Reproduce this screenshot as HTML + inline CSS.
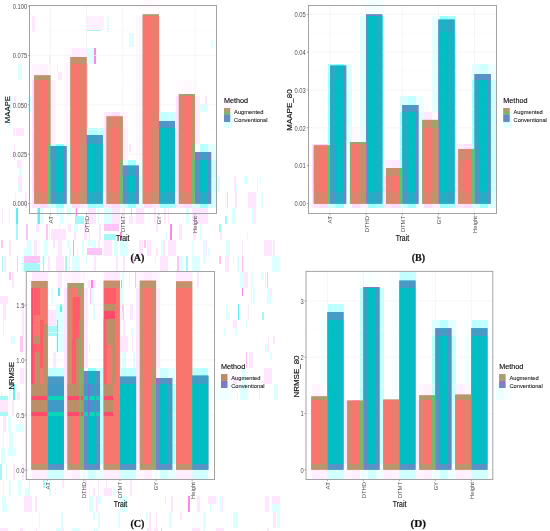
<!DOCTYPE html>
<html><head><meta charset="utf-8"><title>Figure</title>
<style>
html,body{margin:0;padding:0;background:#fff;}
body{width:550px;height:531px;overflow:hidden;}
svg{display:block;font-family:"Liberation Sans",sans-serif;}
</style></head><body>
<svg width="550" height="531" viewBox="0 0 550 531">
<defs><filter id="gs" filterUnits="userSpaceOnUse" x="0" y="0" width="550" height="531" color-interpolation-filters="sRGB"><feColorMatrix type="saturate" values="0"/></filter></defs>
<rect width="550" height="531" fill="#fff"/>
<g shape-rendering="crispEdges">
<rect x="32.3" y="16" width="3" height="16" fill="#FFE6FF"/>
<rect x="106.5" y="16" width="2" height="16" fill="#DCFFFF"/>
<rect x="210.8" y="40" width="2" height="8" fill="#DCFFFF"/>
<rect x="49" y="56" width="2" height="8" fill="#FFE6FF"/>
<rect x="17.5" y="64" width="4" height="16" fill="#DCFFFF"/>
<rect x="57.6" y="72" width="4" height="8" fill="#FFE6FF"/>
<rect x="57.3" y="64" width="1" height="8" fill="#DCFFFF"/>
<rect x="64.6" y="64" width="4" height="16" fill="#FFE6FF"/>
<rect x="73.5" y="64" width="4" height="16" fill="#DCFFFF"/>
<rect x="13.7" y="96" width="2" height="8" fill="#FFE6FF"/>
<rect x="10.2" y="96" width="1.5" height="16" fill="#DCFFFF"/>
<rect x="28.8" y="96" width="2" height="16" fill="#FFE6FF"/>
<rect x="27.9" y="96" width="3" height="16" fill="#DCFFFF"/>
<rect x="200" y="104" width="8" height="8" fill="#DCFFFF"/>
<rect x="205.4" y="96" width="1.5" height="8" fill="#FFE6FF"/>
<rect x="8.4" y="112" width="1.5" height="16" fill="#DCFFFF"/>
<rect x="146.1" y="112" width="4" height="16" fill="#DCFFFF"/>
<rect x="144.2" y="112" width="4" height="8" fill="#FFE6FF"/>
<rect x="161.6" y="112" width="3" height="16" fill="#FFE6FF"/>
<rect x="13.5" y="128" width="1.5" height="8" fill="#FFE6FF"/>
<rect x="12.7" y="128" width="1" height="8" fill="#DCFFFF"/>
<rect x="16" y="128" width="8" height="8" fill="#FFE6FF"/>
<rect x="14.3" y="144" width="1" height="16" fill="#FFE6FF"/>
<rect x="128.5" y="144" width="2" height="8" fill="#FFE6FF"/>
<rect x="140.6" y="152" width="3" height="8" fill="#FFE6FF"/>
<rect x="142.1" y="144" width="1.5" height="8" fill="#DCFFFF"/>
<rect x="200.1" y="144" width="1" height="16" fill="#DCFFFF"/>
<rect x="19.3" y="160" width="3" height="16" fill="#DCFFFF"/>
<rect x="17.2" y="160" width="4" height="8" fill="#FFE6FF"/>
<rect x="72" y="168" width="8" height="8" fill="#DCFFFF"/>
<rect x="76.4" y="160" width="3" height="8" fill="#DCFFFF"/>
<rect x="179.3" y="168" width="1" height="8" fill="#DCFFFF"/>
<rect x="185" y="160" width="1" height="16" fill="#DCFFFF"/>
<rect x="17.6" y="176" width="4" height="16" fill="#FFE6FF"/>
<rect x="17.8" y="184" width="1.5" height="8" fill="#DCFFFF"/>
<rect x="99.2" y="176" width="4" height="16" fill="#DCFFFF"/>
<rect x="96" y="176" width="8" height="8" fill="#FFE6FF"/>
<rect x="160" y="176" width="8" height="16" fill="#FFE6FF"/>
<rect x="169.3" y="184" width="3" height="8" fill="#FFE6FF"/>
<rect x="169.5" y="176" width="1.5" height="16" fill="#DCFFFF"/>
<rect x="208" y="176" width="8" height="16" fill="#DCFFFF"/>
<rect x="208" y="176" width="8" height="16" fill="#FFE6FF"/>
<rect x="217.3" y="176" width="3" height="16" fill="#DCFFFF"/>
<rect x="234.8" y="184" width="2" height="8" fill="#DCFFFF"/>
<rect x="234" y="176" width="1.5" height="16" fill="#FFE6FF"/>
<rect x="243.9" y="176" width="4" height="8" fill="#DCFFFF"/>
<rect x="257" y="176" width="1" height="16" fill="#DCFFFF"/>
<rect x="259.9" y="176" width="1.5" height="8" fill="#DCFFFF"/>
<rect x="14.6" y="192" width="1" height="16" fill="#DCFFFF"/>
<rect x="24.7" y="192" width="2" height="16" fill="#FFE6FF"/>
<rect x="65.5" y="192" width="2" height="16" fill="#FFE6FF"/>
<rect x="64.3" y="192" width="4" height="16" fill="#DCFFFF"/>
<rect x="83.8" y="192" width="2" height="16" fill="#FFE6FF"/>
<rect x="82.6" y="192" width="3" height="16" fill="#FFE6FF"/>
<rect x="154.3" y="192" width="3" height="16" fill="#DCFFFF"/>
<rect x="154.9" y="192" width="2" height="8" fill="#FFE6FF"/>
<rect x="224.5" y="192" width="1.5" height="16" fill="#DCFFFF"/>
<rect x="226.8" y="192" width="1.5" height="16" fill="#A8F7F7"/>
<rect x="235.3" y="192" width="2" height="16" fill="#FFE6FF"/>
<rect x="248" y="192" width="8" height="16" fill="#FFE6FF"/>
<rect x="260.5" y="192" width="2" height="16" fill="#DCFFFF"/>
<rect x="1.9" y="208" width="1" height="16" fill="#FFE6FF"/>
<rect x="8.9" y="208" width="1" height="16" fill="#DCFFFF"/>
<rect x="37.1" y="208" width="2" height="16" fill="#A8F7F7"/>
<rect x="41" y="208" width="1.5" height="16" fill="#DCFFFF"/>
<rect x="56.4" y="208" width="3" height="8" fill="#DCFFFF"/>
<rect x="59.7" y="208" width="4" height="16" fill="#DCFFFF"/>
<rect x="66.5" y="208" width="4" height="8" fill="#DCFFFF"/>
<rect x="74.5" y="208" width="1.5" height="16" fill="#FFE6FF"/>
<rect x="75.8" y="208" width="1" height="8" fill="#FF86E2"/>
<rect x="91.6" y="208" width="1.5" height="16" fill="#FFE6FF"/>
<rect x="88" y="208" width="8" height="16" fill="#FFE6FF"/>
<rect x="97.8" y="208" width="1" height="16" fill="#DCFFFF"/>
<rect x="104" y="208" width="8" height="16" fill="#DCFFFF"/>
<rect x="112" y="208" width="8" height="16" fill="#FFE6FF"/>
<rect x="123" y="208" width="1.5" height="16" fill="#FFE6FF"/>
<rect x="130.7" y="208" width="1.5" height="16" fill="#FFC4F6"/>
<rect x="128.6" y="216" width="4" height="8" fill="#FFE6FF"/>
<rect x="136" y="208" width="8" height="16" fill="#FFE6FF"/>
<rect x="154.1" y="208" width="1.5" height="16" fill="#FFE6FF"/>
<rect x="164" y="208" width="2" height="16" fill="#FFE6FF"/>
<rect x="168" y="208" width="1" height="16" fill="#FFE6FF"/>
<rect x="185.8" y="208" width="3" height="16" fill="#DCFFFF"/>
<rect x="192" y="208" width="8" height="16" fill="#FFE6FF"/>
<rect x="200" y="208" width="8" height="16" fill="#FFE6FF"/>
<rect x="225.3" y="216" width="1.5" height="8" fill="#A8F7F7"/>
<rect x="232.2" y="208" width="4" height="16" fill="#DCFFFF"/>
<rect x="251.7" y="208" width="4" height="16" fill="#DCFFFF"/>
<rect x="253.8" y="208" width="1" height="16" fill="#FFE6FF"/>
<rect x="16.1" y="224" width="1.5" height="16" fill="#A8F7F7"/>
<rect x="26.4" y="224" width="1.5" height="16" fill="#FFC4F6"/>
<rect x="35.8" y="224" width="3" height="8" fill="#FFE6FF"/>
<rect x="46.4" y="224" width="1.5" height="16" fill="#FFC4F6"/>
<rect x="48.6" y="224" width="1.5" height="16" fill="#DCFFFF"/>
<rect x="58.7" y="224" width="1.5" height="16" fill="#DCFFFF"/>
<rect x="69.5" y="224" width="1" height="8" fill="#FFE6FF"/>
<rect x="68.4" y="224" width="2" height="8" fill="#FFE6FF"/>
<rect x="74.1" y="224" width="1.5" height="16" fill="#FFE6FF"/>
<rect x="74.1" y="224" width="4" height="8" fill="#DCFFFF"/>
<rect x="84.4" y="224" width="3" height="16" fill="#FFE6FF"/>
<rect x="88.8" y="224" width="1.5" height="16" fill="#FFE6FF"/>
<rect x="99.1" y="224" width="2" height="16" fill="#FFE6FF"/>
<rect x="116.5" y="224" width="1" height="16" fill="#DCFFFF"/>
<rect x="120.3" y="232" width="1.5" height="8" fill="#FF86E2"/>
<rect x="156" y="224" width="1.5" height="8" fill="#FFE6FF"/>
<rect x="165.6" y="232" width="1" height="8" fill="#DCFFFF"/>
<rect x="169.8" y="224" width="2" height="16" fill="#FF86E2"/>
<rect x="178.5" y="224" width="2" height="16" fill="#FFE6FF"/>
<rect x="179.9" y="224" width="2" height="16" fill="#FFE6FF"/>
<rect x="192.6" y="224" width="3" height="16" fill="#FFE6FF"/>
<rect x="200.1" y="224" width="1.5" height="16" fill="#DCFFFF"/>
<rect x="220.4" y="224" width="2" height="16" fill="#FFE6FF"/>
<rect x="219.4" y="224" width="1.5" height="8" fill="#A8F7F7"/>
<rect x="246.8" y="232" width="1" height="8" fill="#DCFFFF"/>
<rect x="1.2" y="240" width="1.5" height="8" fill="#FFC4F6"/>
<rect x="8.7" y="240" width="2" height="16" fill="#FFE6FF"/>
<rect x="24" y="248" width="8" height="8" fill="#DCFFFF"/>
<rect x="27.4" y="240" width="4" height="16" fill="#DCFFFF"/>
<rect x="33.9" y="240" width="3" height="16" fill="#FFE6FF"/>
<rect x="43.9" y="240" width="4" height="16" fill="#DCFFFF"/>
<rect x="53.3" y="240" width="1.5" height="8" fill="#FFE6FF"/>
<rect x="58" y="240" width="4" height="16" fill="#FFE6FF"/>
<rect x="68.7" y="248" width="2" height="8" fill="#DCFFFF"/>
<rect x="67.3" y="240" width="3" height="8" fill="#DCFFFF"/>
<rect x="73.4" y="240" width="1" height="16" fill="#62EEF0"/>
<rect x="76.5" y="248" width="1.5" height="8" fill="#DCFFFF"/>
<rect x="82.1" y="240" width="1.5" height="16" fill="#DCFFFF"/>
<rect x="91.9" y="240" width="4" height="16" fill="#DCFFFF"/>
<rect x="98.2" y="240" width="2" height="16" fill="#FFE6FF"/>
<rect x="104" y="240" width="8" height="16" fill="#FFE6FF"/>
<rect x="116.5" y="240" width="1" height="16" fill="#FFE6FF"/>
<rect x="114.1" y="240" width="4" height="16" fill="#DCFFFF"/>
<rect x="120" y="240" width="8" height="16" fill="#DCFFFF"/>
<rect x="125" y="240" width="3" height="16" fill="#DCFFFF"/>
<rect x="139" y="240" width="4" height="16" fill="#FFE6FF"/>
<rect x="144" y="240" width="2" height="8" fill="#FFC4F6"/>
<rect x="146.5" y="240" width="4" height="16" fill="#FFE6FF"/>
<rect x="156" y="248" width="1.5" height="8" fill="#FFE6FF"/>
<rect x="163.2" y="240" width="2" height="16" fill="#FFE6FF"/>
<rect x="161.3" y="240" width="1.5" height="16" fill="#DCFFFF"/>
<rect x="168" y="240" width="8" height="16" fill="#FFE6FF"/>
<rect x="192.4" y="240" width="1" height="16" fill="#DCFFFF"/>
<rect x="203" y="240" width="3" height="16" fill="#DCFFFF"/>
<rect x="205.9" y="240" width="1.5" height="16" fill="#FFE6FF"/>
<rect x="208.4" y="248" width="1.5" height="8" fill="#DCFFFF"/>
<rect x="226.4" y="240" width="4" height="16" fill="#DCFFFF"/>
<rect x="242.1" y="240" width="1" height="16" fill="#FFE6FF"/>
<rect x="264" y="240" width="8" height="16" fill="#FFE6FF"/>
<rect x="273.4" y="240" width="2" height="16" fill="#FFE6FF"/>
<rect x="4.3" y="256" width="2" height="16" fill="#FFE6FF"/>
<rect x="1.9" y="256" width="1.5" height="16" fill="#A8F7F7"/>
<rect x="17.2" y="256" width="1" height="16" fill="#A8F7F7"/>
<rect x="22.1" y="256" width="1.5" height="16" fill="#DCFFFF"/>
<rect x="36.5" y="256" width="3" height="16" fill="#DCFFFF"/>
<rect x="42.4" y="256" width="3" height="8" fill="#DCFFFF"/>
<rect x="42.7" y="256" width="1" height="16" fill="#FFC4F6"/>
<rect x="48.2" y="256" width="1.5" height="16" fill="#FFE6FF"/>
<rect x="56" y="256" width="8" height="16" fill="#FFE6FF"/>
<rect x="69.2" y="256" width="1" height="16" fill="#FFE6FF"/>
<rect x="65.2" y="256" width="2" height="16" fill="#A8F7F7"/>
<rect x="72.5" y="256" width="3" height="8" fill="#FFE6FF"/>
<rect x="72" y="256" width="8" height="16" fill="#DCFFFF"/>
<rect x="85.5" y="256" width="1" height="8" fill="#DCFFFF"/>
<rect x="93.6" y="256" width="2" height="16" fill="#FFE6FF"/>
<rect x="115.7" y="256" width="2" height="16" fill="#FFE6FF"/>
<rect x="122.8" y="256" width="2" height="16" fill="#FFE6FF"/>
<rect x="131.3" y="256" width="4" height="8" fill="#FFE6FF"/>
<rect x="155.4" y="256" width="1" height="8" fill="#DCFFFF"/>
<rect x="163.5" y="256" width="2" height="16" fill="#FFE6FF"/>
<rect x="160" y="256" width="8" height="16" fill="#FFE6FF"/>
<rect x="179.1" y="256" width="4" height="16" fill="#DCFFFF"/>
<rect x="176.5" y="256" width="2" height="16" fill="#FFC4F6"/>
<rect x="185.6" y="256" width="2" height="16" fill="#A8F7F7"/>
<rect x="198.1" y="256" width="1.5" height="16" fill="#FFE6FF"/>
<rect x="192" y="256" width="8" height="16" fill="#DCFFFF"/>
<rect x="203.3" y="256" width="3" height="8" fill="#DCFFFF"/>
<rect x="218.8" y="256" width="2" height="8" fill="#FFC4F6"/>
<rect x="224.6" y="256" width="4" height="8" fill="#FFE6FF"/>
<rect x="225.4" y="256" width="4" height="16" fill="#FFE6FF"/>
<rect x="233.2" y="256" width="1" height="8" fill="#DCFFFF"/>
<rect x="237.2" y="256" width="1.5" height="16" fill="#DCFFFF"/>
<rect x="242" y="256" width="1" height="16" fill="#FFC4F6"/>
<rect x="242.8" y="256" width="1" height="16" fill="#DCFFFF"/>
<rect x="272" y="256" width="8" height="16" fill="#DCFFFF"/>
<rect x="275.5" y="256" width="3" height="16" fill="#DCFFFF"/>
<rect x="9.1" y="272" width="2" height="8" fill="#FFC4F6"/>
<rect x="11.8" y="272" width="2" height="16" fill="#FFE6FF"/>
<rect x="34.4" y="272" width="3" height="16" fill="#FFE6FF"/>
<rect x="45.8" y="280" width="1.5" height="8" fill="#FFE6FF"/>
<rect x="40.3" y="280" width="1" height="8" fill="#DCFFFF"/>
<rect x="57.8" y="272" width="4" height="16" fill="#FFE6FF"/>
<rect x="65.4" y="272" width="4" height="16" fill="#DCFFFF"/>
<rect x="85.1" y="272" width="1" height="16" fill="#DCFFFF"/>
<rect x="81.6" y="272" width="2" height="8" fill="#FFE6FF"/>
<rect x="88" y="280" width="8" height="8" fill="#FFE6FF"/>
<rect x="91" y="280" width="1.5" height="8" fill="#FF86E2"/>
<rect x="99" y="280" width="1.5" height="8" fill="#DCFFFF"/>
<rect x="100" y="272" width="2" height="16" fill="#DCFFFF"/>
<rect x="106.6" y="272" width="4" height="16" fill="#DCFFFF"/>
<rect x="121.1" y="280" width="2" height="8" fill="#62EEF0"/>
<rect x="122.1" y="272" width="2" height="16" fill="#DCFFFF"/>
<rect x="134.5" y="272" width="1" height="16" fill="#FFC4F6"/>
<rect x="128.6" y="272" width="1" height="16" fill="#DCFFFF"/>
<rect x="176" y="272" width="8" height="16" fill="#DCFFFF"/>
<rect x="196.7" y="272" width="2" height="16" fill="#FFE6FF"/>
<rect x="240" y="272" width="8" height="16" fill="#FFE6FF"/>
<rect x="240.3" y="272" width="4" height="16" fill="#DCFFFF"/>
<rect x="250.5" y="272" width="2" height="16" fill="#DCFFFF"/>
<rect x="260.5" y="272" width="3" height="8" fill="#DCFFFF"/>
<rect x="265.1" y="272" width="1" height="16" fill="#FFE6FF"/>
<rect x="266.8" y="272" width="1.5" height="16" fill="#FFC4F6"/>
<rect x="0" y="296" width="8" height="8" fill="#FFE6FF"/>
<rect x="27.8" y="288" width="3" height="8" fill="#FFE6FF"/>
<rect x="32" y="288" width="8" height="16" fill="#DCFFFF"/>
<rect x="50.5" y="288" width="2" height="16" fill="#DCFFFF"/>
<rect x="58.1" y="288" width="2" height="8" fill="#62EEF0"/>
<rect x="68.3" y="288" width="2" height="16" fill="#FFE6FF"/>
<rect x="75.4" y="288" width="2" height="16" fill="#FFC4F6"/>
<rect x="85.3" y="288" width="1.5" height="16" fill="#DCFFFF"/>
<rect x="90.4" y="288" width="4" height="16" fill="#DCFFFF"/>
<rect x="89.5" y="288" width="1" height="16" fill="#FFC4F6"/>
<rect x="100.6" y="288" width="1" height="16" fill="#FFC4F6"/>
<rect x="106.6" y="288" width="1" height="16" fill="#DCFFFF"/>
<rect x="107" y="288" width="1" height="16" fill="#FFC4F6"/>
<rect x="115.7" y="288" width="4" height="16" fill="#FFE6FF"/>
<rect x="117.8" y="288" width="1" height="16" fill="#DCFFFF"/>
<rect x="120.3" y="288" width="3" height="16" fill="#DCFFFF"/>
<rect x="139.8" y="288" width="3" height="8" fill="#DCFFFF"/>
<rect x="241.5" y="288" width="1" height="8" fill="#FF86E2"/>
<rect x="250.9" y="288" width="1.5" height="16" fill="#DCFFFF"/>
<rect x="252.6" y="288" width="2" height="16" fill="#DCFFFF"/>
<rect x="266.8" y="288" width="4" height="16" fill="#DCFFFF"/>
<rect x="269.5" y="288" width="2" height="8" fill="#FFE6FF"/>
<rect x="2.7" y="304" width="1" height="16" fill="#FFE6FF"/>
<rect x="3" y="304" width="3" height="16" fill="#FFE6FF"/>
<rect x="22.3" y="304" width="1.5" height="16" fill="#FFE6FF"/>
<rect x="25.9" y="304" width="3" height="16" fill="#DCFFFF"/>
<rect x="40.4" y="304" width="2" height="16" fill="#62EEF0"/>
<rect x="56" y="304" width="8" height="16" fill="#DCFFFF"/>
<rect x="59.5" y="304" width="2" height="8" fill="#62EEF0"/>
<rect x="65.4" y="304" width="3" height="8" fill="#FFE6FF"/>
<rect x="77" y="304" width="2" height="16" fill="#DCFFFF"/>
<rect x="83.5" y="304" width="1.5" height="16" fill="#A8F7F7"/>
<rect x="93.1" y="304" width="1.5" height="16" fill="#DCFFFF"/>
<rect x="96" y="304" width="8" height="16" fill="#DCFFFF"/>
<rect x="106.3" y="304" width="3" height="16" fill="#FFE6FF"/>
<rect x="121.9" y="304" width="2" height="16" fill="#FFC4F6"/>
<rect x="121.2" y="312" width="1.5" height="8" fill="#FFE6FF"/>
<rect x="130.4" y="304" width="2" height="8" fill="#DCFFFF"/>
<rect x="129.9" y="304" width="3" height="16" fill="#FFE6FF"/>
<rect x="226.4" y="304" width="1" height="8" fill="#DCFFFF"/>
<rect x="225.9" y="312" width="4" height="8" fill="#DCFFFF"/>
<rect x="237.5" y="304" width="1.5" height="16" fill="#62EEF0"/>
<rect x="248.2" y="304" width="1" height="16" fill="#FFE6FF"/>
<rect x="261.8" y="312" width="2" height="8" fill="#A8F7F7"/>
<rect x="2.9" y="320" width="1.5" height="16" fill="#FFE6FF"/>
<rect x="21.6" y="320" width="2" height="16" fill="#FFE6FF"/>
<rect x="28.7" y="320" width="2" height="16" fill="#DCFFFF"/>
<rect x="44.5" y="320" width="2" height="16" fill="#A8F7F7"/>
<rect x="51.8" y="320" width="3" height="16" fill="#FFE6FF"/>
<rect x="50.3" y="320" width="2" height="16" fill="#FFE6FF"/>
<rect x="56" y="320" width="8" height="16" fill="#DCFFFF"/>
<rect x="78.5" y="320" width="1" height="16" fill="#FFC4F6"/>
<rect x="86.5" y="320" width="1" height="8" fill="#FFE6FF"/>
<rect x="96.6" y="320" width="3" height="16" fill="#FFE6FF"/>
<rect x="115.6" y="320" width="4" height="8" fill="#DCFFFF"/>
<rect x="123.4" y="320" width="2" height="16" fill="#FFE6FF"/>
<rect x="130.7" y="328" width="2" height="8" fill="#DCFFFF"/>
<rect x="139.6" y="328" width="1.5" height="8" fill="#DCFFFF"/>
<rect x="138.6" y="320" width="2" height="8" fill="#FFE6FF"/>
<rect x="224.4" y="328" width="1.5" height="8" fill="#DCFFFF"/>
<rect x="235.1" y="320" width="2" height="16" fill="#DCFFFF"/>
<rect x="233.1" y="320" width="4" height="8" fill="#FFE6FF"/>
<rect x="245.5" y="320" width="1.5" height="8" fill="#DCFFFF"/>
<rect x="10.7" y="336" width="4" height="8" fill="#DCFFFF"/>
<rect x="19.6" y="336" width="1" height="16" fill="#FFC4F6"/>
<rect x="21.1" y="336" width="2" height="16" fill="#FFC4F6"/>
<rect x="29.7" y="344" width="1.5" height="8" fill="#FFE6FF"/>
<rect x="32" y="344" width="8" height="8" fill="#DCFFFF"/>
<rect x="40.8" y="336" width="1" height="16" fill="#DCFFFF"/>
<rect x="44.7" y="336" width="2" height="16" fill="#FFC4F6"/>
<rect x="56" y="336" width="8" height="16" fill="#DCFFFF"/>
<rect x="70.3" y="336" width="1.5" height="8" fill="#FFE6FF"/>
<rect x="72.7" y="336" width="1" height="8" fill="#DCFFFF"/>
<rect x="82.6" y="344" width="3" height="8" fill="#DCFFFF"/>
<rect x="80" y="336" width="8" height="16" fill="#FFE6FF"/>
<rect x="88.9" y="344" width="1" height="8" fill="#FFE6FF"/>
<rect x="107.7" y="336" width="3" height="16" fill="#FFE6FF"/>
<rect x="104" y="336" width="8" height="16" fill="#DCFFFF"/>
<rect x="117.4" y="336" width="1" height="8" fill="#FFE6FF"/>
<rect x="124.9" y="344" width="2" height="8" fill="#FFC4F6"/>
<rect x="120" y="336" width="8" height="16" fill="#FFE6FF"/>
<rect x="131.7" y="336" width="1" height="16" fill="#FFE6FF"/>
<rect x="136.9" y="336" width="1.5" height="16" fill="#62EEF0"/>
<rect x="265.1" y="344" width="4" height="8" fill="#DCFFFF"/>
<rect x="268.3" y="336" width="1" height="16" fill="#FFE6FF"/>
<rect x="272.7" y="336" width="2" height="8" fill="#FFE6FF"/>
<rect x="27.7" y="352" width="4" height="16" fill="#DCFFFF"/>
<rect x="29.5" y="360" width="2" height="8" fill="#DCFFFF"/>
<rect x="42.8" y="352" width="4" height="16" fill="#FFE6FF"/>
<rect x="52.5" y="352" width="3" height="16" fill="#FFE6FF"/>
<rect x="65.2" y="352" width="1.5" height="16" fill="#DCFFFF"/>
<rect x="77.6" y="352" width="1.5" height="16" fill="#FFE6FF"/>
<rect x="81.9" y="352" width="1.5" height="8" fill="#DCFFFF"/>
<rect x="97.6" y="352" width="4" height="16" fill="#DCFFFF"/>
<rect x="104" y="352" width="8" height="16" fill="#FFE6FF"/>
<rect x="116" y="352" width="1.5" height="16" fill="#FFC4F6"/>
<rect x="113.7" y="352" width="1.5" height="16" fill="#FFC4F6"/>
<rect x="122.7" y="352" width="1.5" height="16" fill="#FFE6FF"/>
<rect x="122.3" y="352" width="4" height="16" fill="#DCFFFF"/>
<rect x="133.2" y="352" width="2" height="16" fill="#DCFFFF"/>
<rect x="140.3" y="352" width="2" height="16" fill="#FFE6FF"/>
<rect x="245.5" y="352" width="1" height="16" fill="#FFC4F6"/>
<rect x="249.2" y="352" width="4" height="16" fill="#FFE6FF"/>
<rect x="269.8" y="352" width="2" height="8" fill="#DCFFFF"/>
<rect x="19.6" y="368" width="4" height="16" fill="#FFE6FF"/>
<rect x="26.6" y="368" width="3" height="16" fill="#DCFFFF"/>
<rect x="26.3" y="368" width="3" height="16" fill="#FFE6FF"/>
<rect x="32" y="368" width="8" height="16" fill="#FFE6FF"/>
<rect x="43.7" y="368" width="4" height="8" fill="#FFE6FF"/>
<rect x="42.2" y="368" width="3" height="16" fill="#DCFFFF"/>
<rect x="48" y="368" width="8" height="16" fill="#FFE6FF"/>
<rect x="53.8" y="376" width="1" height="8" fill="#DCFFFF"/>
<rect x="59.2" y="368" width="3" height="16" fill="#DCFFFF"/>
<rect x="59.3" y="376" width="1.5" height="8" fill="#FFE6FF"/>
<rect x="68" y="368" width="4" height="8" fill="#DCFFFF"/>
<rect x="80" y="368" width="4" height="16" fill="#FFE6FF"/>
<rect x="80.1" y="376" width="4" height="8" fill="#FFE6FF"/>
<rect x="90.1" y="376" width="4" height="8" fill="#FFE6FF"/>
<rect x="89" y="368" width="1.5" height="8" fill="#DCFFFF"/>
<rect x="100.1" y="368" width="3" height="16" fill="#DCFFFF"/>
<rect x="100.6" y="368" width="1" height="16" fill="#DCFFFF"/>
<rect x="105.7" y="368" width="2" height="16" fill="#FFE6FF"/>
<rect x="131.1" y="368" width="3" height="8" fill="#FFE6FF"/>
<rect x="233" y="376" width="4" height="8" fill="#FFE6FF"/>
<rect x="241.5" y="368" width="3" height="16" fill="#DCFFFF"/>
<rect x="264" y="368" width="8" height="16" fill="#FFE6FF"/>
<rect x="1.2" y="392" width="1" height="8" fill="#FFE6FF"/>
<rect x="8.7" y="384" width="2" height="16" fill="#DCFFFF"/>
<rect x="13.4" y="384" width="1.5" height="16" fill="#62EEF0"/>
<rect x="17.4" y="392" width="3" height="8" fill="#FFE6FF"/>
<rect x="28.6" y="392" width="1.5" height="8" fill="#FFE6FF"/>
<rect x="36.2" y="384" width="3" height="8" fill="#DCFFFF"/>
<rect x="49.9" y="392" width="1.5" height="8" fill="#DCFFFF"/>
<rect x="48" y="392" width="8" height="8" fill="#DCFFFF"/>
<rect x="57" y="392" width="4" height="8" fill="#DCFFFF"/>
<rect x="67.8" y="384" width="1" height="16" fill="#FFE6FF"/>
<rect x="64.1" y="384" width="3" height="8" fill="#DCFFFF"/>
<rect x="81.1" y="392" width="2" height="8" fill="#FFC4F6"/>
<rect x="104.5" y="384" width="2" height="16" fill="#FFE6FF"/>
<rect x="105.4" y="384" width="3" height="16" fill="#FFE6FF"/>
<rect x="136.2" y="384" width="1.5" height="16" fill="#DCFFFF"/>
<rect x="236.6" y="392" width="1" height="8" fill="#DCFFFF"/>
<rect x="241.3" y="384" width="1" height="16" fill="#FFE6FF"/>
<rect x="240" y="384" width="8" height="16" fill="#DCFFFF"/>
<rect x="258.5" y="384" width="1.5" height="16" fill="#FFE6FF"/>
<rect x="274" y="384" width="4" height="16" fill="#DCFFFF"/>
<rect x="5.6" y="400" width="2" height="16" fill="#FFE6FF"/>
<rect x="0" y="400" width="8" height="16" fill="#FFE6FF"/>
<rect x="12.4" y="400" width="1.5" height="16" fill="#FFE6FF"/>
<rect x="27.5" y="400" width="3" height="16" fill="#FFE6FF"/>
<rect x="45.7" y="400" width="2" height="16" fill="#DCFFFF"/>
<rect x="48" y="400" width="8" height="16" fill="#DCFFFF"/>
<rect x="52.7" y="400" width="1" height="16" fill="#FFE6FF"/>
<rect x="78.7" y="400" width="1" height="16" fill="#DCFFFF"/>
<rect x="80" y="400" width="8" height="16" fill="#FFE6FF"/>
<rect x="88.5" y="408" width="3" height="8" fill="#DCFFFF"/>
<rect x="100.6" y="400" width="1.5" height="16" fill="#FFE6FF"/>
<rect x="108.2" y="400" width="2" height="16" fill="#FFE6FF"/>
<rect x="106.3" y="400" width="4" height="16" fill="#FFE6FF"/>
<rect x="112" y="400" width="8" height="16" fill="#DCFFFF"/>
<rect x="138.5" y="400" width="1" height="8" fill="#FFE6FF"/>
<rect x="2.7" y="416" width="2" height="16" fill="#FFE6FF"/>
<rect x="2.8" y="416" width="3" height="16" fill="#FFE6FF"/>
<rect x="8.4" y="416" width="3" height="16" fill="#DCFFFF"/>
<rect x="16" y="424" width="8" height="8" fill="#DCFFFF"/>
<rect x="24" y="416" width="8" height="16" fill="#DCFFFF"/>
<rect x="32.5" y="416" width="1.5" height="8" fill="#DCFFFF"/>
<rect x="33.9" y="416" width="1.5" height="16" fill="#FFE6FF"/>
<rect x="60.5" y="424" width="2" height="8" fill="#FFE6FF"/>
<rect x="57.4" y="416" width="2" height="16" fill="#FFE6FF"/>
<rect x="72.8" y="416" width="1" height="16" fill="#DCFFFF"/>
<rect x="91.2" y="416" width="1.5" height="8" fill="#DCFFFF"/>
<rect x="100.5" y="416" width="1.5" height="16" fill="#FFE6FF"/>
<rect x="114.4" y="416" width="3" height="16" fill="#FFE6FF"/>
<rect x="121.7" y="416" width="4" height="16" fill="#FFE6FF"/>
<rect x="123.1" y="416" width="1" height="16" fill="#FFC4F6"/>
<rect x="3.1" y="432" width="1" height="16" fill="#DCFFFF"/>
<rect x="9.3" y="432" width="4" height="16" fill="#DCFFFF"/>
<rect x="48" y="440" width="8" height="8" fill="#DCFFFF"/>
<rect x="65.9" y="432" width="1.5" height="16" fill="#FFE6FF"/>
<rect x="69.9" y="432" width="1" height="16" fill="#FFE6FF"/>
<rect x="72" y="432" width="8" height="16" fill="#DCFFFF"/>
<rect x="81.8" y="440" width="4" height="8" fill="#FFE6FF"/>
<rect x="89.5" y="432" width="1" height="16" fill="#DCFFFF"/>
<rect x="91.5" y="432" width="1.5" height="16" fill="#FFE6FF"/>
<rect x="98.3" y="432" width="4" height="16" fill="#FFE6FF"/>
<rect x="107.4" y="440" width="3" height="8" fill="#DCFFFF"/>
<rect x="112" y="440" width="8" height="8" fill="#DCFFFF"/>
<rect x="123.7" y="440" width="1.5" height="8" fill="#DCFFFF"/>
<rect x="130.6" y="432" width="1" height="16" fill="#FFE6FF"/>
<rect x="141" y="432" width="1" height="16" fill="#DCFFFF"/>
<rect x="0.5" y="448" width="4" height="16" fill="#DCFFFF"/>
<rect x="8" y="448" width="8" height="8" fill="#DCFFFF"/>
<rect x="40.6" y="448" width="2" height="16" fill="#DCFFFF"/>
<rect x="40.2" y="448" width="1" height="8" fill="#A8F7F7"/>
<rect x="49.8" y="448" width="4" height="16" fill="#DCFFFF"/>
<rect x="57" y="448" width="1.5" height="16" fill="#A8F7F7"/>
<rect x="67.5" y="448" width="4" height="16" fill="#DCFFFF"/>
<rect x="91.2" y="456" width="1.5" height="8" fill="#DCFFFF"/>
<rect x="96" y="448" width="8" height="16" fill="#FFE6FF"/>
<rect x="100.5" y="456" width="1.5" height="8" fill="#DCFFFF"/>
<rect x="107.2" y="456" width="2" height="8" fill="#FFE6FF"/>
<rect x="112" y="448" width="8" height="16" fill="#DCFFFF"/>
<rect x="123.5" y="448" width="2" height="8" fill="#FFE6FF"/>
<rect x="136" y="456" width="8" height="8" fill="#FFE6FF"/>
<rect x="0.2" y="464" width="2" height="16" fill="#A8F7F7"/>
<rect x="6.1" y="464" width="1" height="16" fill="#DCFFFF"/>
<rect x="12.8" y="464" width="2" height="16" fill="#FFE6FF"/>
<rect x="21.8" y="464" width="2" height="16" fill="#FFE6FF"/>
<rect x="32" y="464" width="8" height="16" fill="#FFE6FF"/>
<rect x="37.3" y="464" width="2" height="16" fill="#DCFFFF"/>
<rect x="70.2" y="464" width="1" height="16" fill="#DCFFFF"/>
<rect x="75.8" y="464" width="1.5" height="16" fill="#FFE6FF"/>
<rect x="86.4" y="464" width="1" height="16" fill="#62EEF0"/>
<rect x="84.1" y="464" width="1" height="16" fill="#FFE6FF"/>
<rect x="90.1" y="472" width="1.5" height="8" fill="#A8F7F7"/>
<rect x="88.1" y="472" width="4" height="8" fill="#FFE6FF"/>
<rect x="97" y="464" width="3" height="16" fill="#DCFFFF"/>
<rect x="108.8" y="464" width="1.5" height="16" fill="#62EEF0"/>
<rect x="116.3" y="472" width="2" height="8" fill="#FFE6FF"/>
<rect x="116.5" y="464" width="1" height="8" fill="#A8F7F7"/>
<rect x="130.7" y="464" width="4" height="8" fill="#FFE6FF"/>
<rect x="137.3" y="464" width="4" height="16" fill="#DCFFFF"/>
<rect x="141.6" y="464" width="2" height="8" fill="#FFC4F6"/>
<rect x="2.9" y="480" width="1" height="16" fill="#DCFFFF"/>
<rect x="9.4" y="480" width="1.5" height="16" fill="#DCFFFF"/>
<rect x="17.7" y="480" width="3" height="16" fill="#DCFFFF"/>
<rect x="25.3" y="488" width="4" height="8" fill="#DCFFFF"/>
<rect x="29.4" y="480" width="1" height="16" fill="#FFE6FF"/>
<rect x="43.1" y="480" width="2" height="8" fill="#A8F7F7"/>
<rect x="48.9" y="480" width="2" height="16" fill="#DCFFFF"/>
<rect x="54.6" y="488" width="1" height="8" fill="#DCFFFF"/>
<rect x="61.6" y="480" width="2" height="8" fill="#FFE6FF"/>
<rect x="84.7" y="480" width="2" height="16" fill="#FFE6FF"/>
<rect x="93.4" y="488" width="2" height="8" fill="#FFE6FF"/>
<rect x="88.8" y="488" width="1" height="8" fill="#DCFFFF"/>
<rect x="97.6" y="480" width="1" height="16" fill="#FFE6FF"/>
<rect x="104" y="488" width="8" height="8" fill="#FFE6FF"/>
<rect x="105.5" y="480" width="1.5" height="16" fill="#FFE6FF"/>
<rect x="113.1" y="488" width="3" height="8" fill="#DCFFFF"/>
<rect x="129.7" y="480" width="2" height="16" fill="#FFE6FF"/>
<rect x="2.4" y="496" width="4" height="16" fill="#DCFFFF"/>
<rect x="5.5" y="504" width="1.5" height="8" fill="#DCFFFF"/>
<rect x="24" y="496" width="8" height="16" fill="#FFE6FF"/>
<rect x="35.3" y="496" width="1.5" height="16" fill="#FFE6FF"/>
<rect x="88.9" y="496" width="4" height="16" fill="#DCFFFF"/>
<rect x="96.9" y="496" width="4" height="8" fill="#DCFFFF"/>
<rect x="96.4" y="496" width="2" height="16" fill="#FFE6FF"/>
<rect x="120" y="496" width="8" height="16" fill="#DCFFFF"/>
<rect x="164.8" y="496" width="1.5" height="8" fill="#FFE6FF"/>
<rect x="171.3" y="496" width="1.5" height="16" fill="#FFE6FF"/>
<rect x="188.6" y="496" width="1" height="16" fill="#DCFFFF"/>
<rect x="188.3" y="496" width="2" height="16" fill="#FF86E2"/>
<rect x="196.9" y="496" width="3" height="16" fill="#FFE6FF"/>
<rect x="209.7" y="496" width="1" height="16" fill="#DCFFFF"/>
<rect x="208" y="496" width="8" height="8" fill="#FFE6FF"/>
<rect x="222.4" y="496" width="1" height="16" fill="#FFE6FF"/>
<rect x="220.1" y="496" width="2" height="16" fill="#DCFFFF"/>
<rect x="265.2" y="496" width="3" height="16" fill="#DCFFFF"/>
<rect x="265.8" y="496" width="3" height="16" fill="#FFE6FF"/>
<rect x="272" y="496" width="8" height="16" fill="#FFE6FF"/>
<rect x="272" y="504" width="8" height="8" fill="#DCFFFF"/>
<rect x="38.5" y="512" width="1" height="16" fill="#DCFFFF"/>
<rect x="61.3" y="512" width="1.5" height="16" fill="#DCFFFF"/>
<rect x="93" y="512" width="2" height="8" fill="#DCFFFF"/>
<rect x="98.1" y="512" width="2" height="16" fill="#DCFFFF"/>
<rect x="118" y="512" width="2" height="16" fill="#DCFFFF"/>
<rect x="146.4" y="512" width="1.5" height="8" fill="#DCFFFF"/>
<rect x="148.8" y="512" width="2" height="16" fill="#FFE6FF"/>
<rect x="156.1" y="512" width="1" height="16" fill="#FFE6FF"/>
<rect x="168.5" y="512" width="3" height="16" fill="#DCFFFF"/>
<rect x="179.7" y="512" width="2" height="8" fill="#FFE6FF"/>
<rect x="203.2" y="512" width="3" height="16" fill="#DCFFFF"/>
<rect x="233.5" y="512" width="4" height="16" fill="#DCFFFF"/>
<rect x="232.6" y="512" width="1" height="16" fill="#DCFFFF"/>
<rect x="276.7" y="512" width="3" height="16" fill="#DCFFFF"/>
<rect x="272.9" y="512" width="3" height="16" fill="#FFE6FF"/>
<rect x="0" y="528" width="8" height="16" fill="#FFE6FF"/>
<rect x="19.8" y="528" width="3" height="8" fill="#FFE6FF"/>
<rect x="35.7" y="528" width="1.5" height="16" fill="#FFE6FF"/>
<rect x="56" y="528" width="8" height="16" fill="#DCFFFF"/>
<rect x="62.1" y="528" width="1" height="16" fill="#FFE6FF"/>
<rect x="75.1" y="528" width="2" height="16" fill="#FFE6FF"/>
<rect x="72" y="528" width="8" height="16" fill="#DCFFFF"/>
<rect x="93.6" y="528" width="1.5" height="16" fill="#DCFFFF"/>
<rect x="96.3" y="528" width="1.5" height="16" fill="#DCFFFF"/>
<rect x="146.7" y="528" width="4" height="8" fill="#DCFFFF"/>
<rect x="147.3" y="528" width="4" height="8" fill="#FFE6FF"/>
<rect x="154.4" y="528" width="4" height="16" fill="#FFE6FF"/>
<rect x="161.3" y="528" width="1" height="8" fill="#FFC4F6"/>
<rect x="194.9" y="536" width="4" height="8" fill="#FFE6FF"/>
<rect x="192" y="528" width="8" height="16" fill="#FFE6FF"/>
<rect x="203.4" y="528" width="1.5" height="8" fill="#DCFFFF"/>
<rect x="202.9" y="536" width="1" height="8" fill="#DCFFFF"/>
<rect x="216" y="528" width="8" height="16" fill="#FFE6FF"/>
<rect x="267.3" y="528" width="2" height="16" fill="#FFE6FF"/>
<rect x="16.1" y="208" width="1.7" height="16" fill="#62EEF0"/>
<rect x="38.2" y="208" width="1.7" height="16" fill="#62EEF0"/>
<rect x="74.5" y="216" width="9.3" height="8" fill="#A8F7F7"/>
<rect x="51" y="229" width="15" height="11" fill="#FFE6FF"/>
<rect x="103.5" y="233.6" width="12.5" height="6.4" fill="#A8F7F7"/>
<rect x="103.5" y="224" width="15.2" height="7" fill="#FFC4F6"/>
<rect x="88.4" y="240" width="7" height="6" fill="#DCFFFF"/>
<rect x="87" y="247.5" width="15" height="7" fill="#FFC4F6"/>
<rect x="24.4" y="262.7" width="14" height="9.3" fill="#A8F7F7"/>
<rect x="24.4" y="256" width="15.1" height="6.7" fill="#FFC4F6"/>
<rect x="86" y="16.3" width="17.5" height="13.7" fill="#FFF0FF"/>
<rect x="86" y="29.8" width="15" height="1.6" fill="#62EEF0"/>
<rect x="72" y="47.7" width="5" height="8.3" fill="#FFC4F6"/>
<rect x="87" y="48" width="7" height="16" fill="#DCFFFF"/>
<rect x="94.3" y="48" width="1.7" height="16" fill="#FF86E2"/>
<rect x="128.5" y="33" width="5.1" height="14" fill="#DCFFFF"/>
<rect x="24" y="264" width="16" height="7" fill="#A8F7F7"/>
<rect x="48" y="326" width="10" height="10" fill="#A8F7F7"/>
<rect x="57" y="320" width="1.2" height="32" fill="#62EEF0"/>
<rect x="48" y="310" width="8" height="16" fill="#FFE6FF"/>
<rect x="24" y="384" width="7" height="32" fill="#A8F7F7"/>
<rect x="64" y="384" width="3.5" height="32" fill="#DCFFFF"/>
<rect x="100" y="384" width="3.7" height="32" fill="#DCFFFF"/>
<rect x="24" y="396" width="7" height="4" fill="#FFC4F6"/>
<rect x="24" y="412" width="7" height="4" fill="#FFC4F6"/>
<rect x="64" y="396" width="3.5" height="4" fill="#FFC4F6"/>
<rect x="64" y="412" width="3.5" height="4" fill="#FFC4F6"/>
<rect x="100" y="396" width="3.7" height="4" fill="#FFC4F6"/>
<rect x="100" y="412" width="3.7" height="4" fill="#FFC4F6"/>
<rect x="0" y="396" width="8" height="4" fill="#A8F7F7"/>
<rect x="0" y="412" width="8" height="4" fill="#A8F7F7"/>
</g>
<g shape-rendering="crispEdges">
<rect x="368" y="0" width="8" height="16" fill="#F2FFFF"/>
<rect x="376" y="0" width="8" height="16" fill="#F4FFFF"/>
<rect x="360" y="0" width="8" height="16" fill="#FCFFFF"/>
<rect x="144" y="0" width="8" height="16" fill="#FFFAFF"/>
<rect x="152" y="0" width="8" height="16" fill="#FFFBFF"/>
<rect x="136" y="0" width="8" height="16" fill="#FFFEFF"/>
<rect x="440" y="16" width="8" height="16" fill="#97FFFF"/>
<rect x="448" y="16" width="8" height="16" fill="#A9FFFF"/>
<rect x="432" y="16" width="8" height="16" fill="#EAFFFF"/>
<rect x="152" y="16" width="8" height="96" fill="#FFD7FF"/>
<rect x="360" y="16" width="8" height="112" fill="#E0FFFF"/>
<rect x="136" y="16" width="8" height="144" fill="#FFF7FF"/>
<rect x="376" y="16" width="8" height="176" fill="#95FFFF"/>
<rect x="432" y="32" width="8" height="80" fill="#E4FFFF"/>
<rect x="448" y="32" width="8" height="160" fill="#90FFFF"/>
<rect x="72" y="48" width="8" height="16" fill="#FFEAFF"/>
<rect x="80" y="48" width="8" height="16" fill="#FFEEFF"/>
<rect x="64" y="48" width="8" height="16" fill="#FFFBFF"/>
<rect x="336" y="64" width="8" height="16" fill="#86FFFF"/>
<rect x="328" y="64" width="8" height="16" fill="#A4FFFF"/>
<rect x="480" y="64" width="8" height="16" fill="#CDFFFF"/>
<rect x="472" y="64" width="8" height="16" fill="#DCFFFF"/>
<rect x="344" y="64" width="8" height="16" fill="#DEFFFF"/>
<rect x="488" y="64" width="8" height="16" fill="#EEFFFF"/>
<rect x="40" y="64" width="8" height="16" fill="#FFF2FF"/>
<rect x="32" y="64" width="8" height="16" fill="#FFF5FF"/>
<rect x="48" y="64" width="8" height="16" fill="#FFFBFF"/>
<rect x="80" y="64" width="8" height="64" fill="#FFD9FF"/>
<rect x="64" y="64" width="8" height="80" fill="#FFF6FF"/>
<rect x="184" y="80" width="8" height="16" fill="#FFF9FF"/>
<rect x="176" y="80" width="8" height="16" fill="#FFFBFF"/>
<rect x="192" y="80" width="8" height="16" fill="#FFFDFF"/>
<rect x="344" y="80" width="8" height="48" fill="#DAFFFF"/>
<rect x="328" y="80" width="8" height="64" fill="#9AFFFF"/>
<rect x="472" y="80" width="8" height="64" fill="#A3FFFF"/>
<rect x="48" y="80" width="8" height="64" fill="#FFF1FF"/>
<rect x="488" y="80" width="8" height="112" fill="#D1FFFF"/>
<rect x="32" y="80" width="8" height="112" fill="#FFDDFF"/>
<rect x="408" y="96" width="8" height="16" fill="#C4FFFF"/>
<rect x="400" y="96" width="8" height="16" fill="#D5FFFF"/>
<rect x="416" y="96" width="8" height="16" fill="#EDFFFF"/>
<rect x="224" y="96" width="8" height="16" fill="#FFF6FF"/>
<rect x="504" y="96" width="8" height="16" fill="#FFF7FF"/>
<rect x="496" y="96" width="8" height="16" fill="#FFFEFF"/>
<rect x="192" y="96" width="8" height="48" fill="#FFEDFF"/>
<rect x="176" y="96" width="8" height="96" fill="#FFE1FF"/>
<rect x="160" y="112" width="8" height="16" fill="#C4FFFF"/>
<rect x="168" y="112" width="8" height="16" fill="#CCFFFF"/>
<rect x="224" y="112" width="8" height="16" fill="#E0FFFF"/>
<rect x="416" y="112" width="8" height="16" fill="#E0FFFF"/>
<rect x="504" y="112" width="8" height="16" fill="#E3FFFF"/>
<rect x="496" y="112" width="8" height="16" fill="#FCFFFF"/>
<rect x="152" y="112" width="8" height="16" fill="#FFDBFF"/>
<rect x="112" y="112" width="8" height="16" fill="#FFDDFF"/>
<rect x="424" y="112" width="8" height="16" fill="#FFE7FF"/>
<rect x="104" y="112" width="8" height="16" fill="#FFE8FF"/>
<rect x="120" y="112" width="8" height="16" fill="#FFF4FF"/>
<rect x="432" y="112" width="8" height="16" fill="#FFFAFF"/>
<rect x="400" y="112" width="8" height="48" fill="#9FFFFF"/>
<rect x="88" y="128" width="8" height="16" fill="#B3FFFF"/>
<rect x="96" y="128" width="8" height="16" fill="#C0FFFF"/>
<rect x="344" y="128" width="8" height="16" fill="#DDFFFF"/>
<rect x="360" y="128" width="8" height="16" fill="#E8FFFF"/>
<rect x="80" y="128" width="8" height="16" fill="#FFE0FF"/>
<rect x="352" y="128" width="8" height="16" fill="#FFF9FF"/>
<rect x="120" y="128" width="8" height="32" fill="#FFEFFF"/>
<rect x="168" y="128" width="8" height="64" fill="#89FFFF"/>
<rect x="416" y="128" width="8" height="64" fill="#EBFFFF"/>
<rect x="104" y="128" width="8" height="64" fill="#FFDFFF"/>
<rect x="56" y="144" width="8" height="16" fill="#89FFFF"/>
<rect x="328" y="144" width="8" height="16" fill="#AFFFFF"/>
<rect x="472" y="144" width="8" height="16" fill="#B6FFFF"/>
<rect x="200" y="144" width="8" height="16" fill="#BCFFFF"/>
<rect x="48" y="144" width="8" height="16" fill="#C8FFFF"/>
<rect x="208" y="144" width="8" height="16" fill="#E5FFFF"/>
<rect x="64" y="144" width="8" height="16" fill="#ECFFFF"/>
<rect x="192" y="144" width="8" height="16" fill="#F8FFFF"/>
<rect x="320" y="144" width="8" height="16" fill="#FFD4FF"/>
<rect x="312" y="144" width="8" height="16" fill="#FFDEFF"/>
<rect x="464" y="144" width="8" height="16" fill="#FFDFFF"/>
<rect x="456" y="144" width="8" height="16" fill="#FFE9FF"/>
<rect x="96" y="144" width="8" height="48" fill="#8EFFFF"/>
<rect x="344" y="144" width="8" height="48" fill="#F2FFFF"/>
<rect x="128" y="160" width="8" height="16" fill="#A8FFFF"/>
<rect x="400" y="160" width="8" height="16" fill="#ACFFFF"/>
<rect x="120" y="160" width="8" height="16" fill="#E4FFFF"/>
<rect x="136" y="160" width="8" height="16" fill="#EFFFFF"/>
<rect x="392" y="160" width="8" height="16" fill="#FFE8FF"/>
<rect x="384" y="160" width="8" height="16" fill="#FFEEFF"/>
<rect x="208" y="160" width="8" height="32" fill="#CAFFFF"/>
<rect x="64" y="160" width="8" height="32" fill="#E7FFFF"/>
<rect x="312" y="160" width="8" height="32" fill="#FFDBFF"/>
<rect x="456" y="160" width="8" height="32" fill="#FFDEFF"/>
<rect x="136" y="176" width="8" height="16" fill="#DEFFFF"/>
<rect x="384" y="176" width="8" height="16" fill="#FFDCFF"/>
<rect x="56" y="192" width="8" height="16" fill="#9DFFFF"/>
<rect x="88" y="192" width="8" height="16" fill="#9DFFFF"/>
<rect x="128" y="192" width="8" height="16" fill="#9DFFFF"/>
<rect x="160" y="192" width="8" height="16" fill="#9DFFFF"/>
<rect x="200" y="192" width="8" height="16" fill="#9DFFFF"/>
<rect x="336" y="192" width="8" height="16" fill="#9DFFFF"/>
<rect x="368" y="192" width="8" height="16" fill="#9DFFFF"/>
<rect x="408" y="192" width="8" height="16" fill="#9DFFFF"/>
<rect x="440" y="192" width="8" height="16" fill="#9DFFFF"/>
<rect x="480" y="192" width="8" height="16" fill="#9DFFFF"/>
<rect x="168" y="192" width="8" height="16" fill="#A9FFFF"/>
<rect x="96" y="192" width="8" height="16" fill="#ADFFFF"/>
<rect x="448" y="192" width="8" height="16" fill="#AEFFFF"/>
<rect x="376" y="192" width="8" height="16" fill="#B1FFFF"/>
<rect x="328" y="192" width="8" height="16" fill="#C6FFFF"/>
<rect x="400" y="192" width="8" height="16" fill="#CBFFFF"/>
<rect x="48" y="192" width="8" height="16" fill="#CEFFFF"/>
<rect x="472" y="192" width="8" height="16" fill="#D1FFFF"/>
<rect x="120" y="192" width="8" height="16" fill="#D5FFFF"/>
<rect x="208" y="192" width="8" height="16" fill="#D8FFFF"/>
<rect x="192" y="192" width="8" height="16" fill="#DBFFFF"/>
<rect x="488" y="192" width="8" height="16" fill="#DEFFFF"/>
<rect x="136" y="192" width="8" height="16" fill="#E7FFFF"/>
<rect x="64" y="192" width="8" height="16" fill="#EDFFFF"/>
<rect x="416" y="192" width="8" height="16" fill="#F0FFFF"/>
<rect x="344" y="192" width="8" height="16" fill="#F5FFFF"/>
<rect x="40" y="192" width="8" height="16" fill="#FFDDFF"/>
<rect x="72" y="192" width="8" height="16" fill="#FFDDFF"/>
<rect x="112" y="192" width="8" height="16" fill="#FFDDFF"/>
<rect x="144" y="192" width="8" height="16" fill="#FFDDFF"/>
<rect x="184" y="192" width="8" height="16" fill="#FFDDFF"/>
<rect x="320" y="192" width="8" height="16" fill="#FFDDFF"/>
<rect x="352" y="192" width="8" height="16" fill="#FFDDFF"/>
<rect x="392" y="192" width="8" height="16" fill="#FFDDFF"/>
<rect x="424" y="192" width="8" height="16" fill="#FFDDFF"/>
<rect x="464" y="192" width="8" height="16" fill="#FFDDFF"/>
<rect x="312" y="192" width="8" height="16" fill="#FFE4FF"/>
<rect x="32" y="192" width="8" height="16" fill="#FFE6FF"/>
<rect x="384" y="192" width="8" height="16" fill="#FFE6FF"/>
<rect x="456" y="192" width="8" height="16" fill="#FFE7FF"/>
<rect x="104" y="192" width="8" height="16" fill="#FFE8FF"/>
<rect x="152" y="192" width="8" height="16" fill="#FFE9FF"/>
<rect x="176" y="192" width="8" height="16" fill="#FFE9FF"/>
<rect x="80" y="192" width="8" height="16" fill="#FFECFF"/>
<rect x="432" y="192" width="8" height="16" fill="#FFEEFF"/>
<rect x="360" y="192" width="8" height="16" fill="#FFF0FF"/>
<rect x="400" y="272" width="8" height="16" fill="#C1FFFF"/>
<rect x="408" y="272" width="8" height="16" fill="#C5FFFF"/>
<rect x="368" y="272" width="8" height="16" fill="#F7FFFF"/>
<rect x="360" y="272" width="8" height="16" fill="#FAFFFF"/>
<rect x="392" y="272" width="8" height="16" fill="#FAFFFF"/>
<rect x="376" y="272" width="8" height="16" fill="#FBFFFF"/>
<rect x="32" y="272" width="8" height="16" fill="#FFEAFF"/>
<rect x="104" y="272" width="16" height="16" fill="#FFEAFF"/>
<rect x="144" y="272" width="8" height="16" fill="#FFEAFF"/>
<rect x="40" y="272" width="8" height="16" fill="#FFEBFF"/>
<rect x="176" y="272" width="16" height="16" fill="#FFECFF"/>
<rect x="72" y="272" width="8" height="16" fill="#FFF0FF"/>
<rect x="136" y="272" width="8" height="16" fill="#FFF4FF"/>
<rect x="152" y="272" width="8" height="16" fill="#FFF4FF"/>
<rect x="64" y="272" width="8" height="16" fill="#FFF7FF"/>
<rect x="80" y="272" width="8" height="16" fill="#FFF8FF"/>
<rect x="24" y="272" width="8" height="16" fill="#FFFDFF"/>
<rect x="96" y="272" width="8" height="16" fill="#FFFEFF"/>
<rect x="40" y="288" width="8" height="80" fill="#FFD2FF"/>
<rect x="152" y="288" width="8" height="80" fill="#FFE7FF"/>
<rect x="80" y="288" width="8" height="80" fill="#FFE9FF"/>
<rect x="96" y="288" width="8" height="80" fill="#FFFDFF"/>
<rect x="192" y="288" width="8" height="80" fill="#FFFEFF"/>
<rect x="392" y="288" width="8" height="96" fill="#F4FFFF"/>
<rect x="112" y="288" width="8" height="96" fill="#FFD1FF"/>
<rect x="136" y="288" width="8" height="96" fill="#FFE7FF"/>
<rect x="360" y="288" width="8" height="112" fill="#B1FFFF"/>
<rect x="376" y="288" width="8" height="112" fill="#C5FFFF"/>
<rect x="408" y="288" width="8" height="176" fill="#82FFFF"/>
<rect x="64" y="288" width="8" height="176" fill="#FFE5FF"/>
<rect x="24" y="288" width="8" height="176" fill="#FFFBFF"/>
<rect x="328" y="304" width="8" height="16" fill="#BCFFFF"/>
<rect x="336" y="304" width="8" height="16" fill="#C0FFFF"/>
<rect x="320" y="304" width="8" height="16" fill="#FAFFFF"/>
<rect x="440" y="320" width="8" height="16" fill="#BDFFFF"/>
<rect x="472" y="320" width="8" height="16" fill="#BDFFFF"/>
<rect x="480" y="320" width="8" height="16" fill="#C2FFFF"/>
<rect x="432" y="320" width="8" height="16" fill="#D9FFFF"/>
<rect x="448" y="320" width="8" height="16" fill="#E3FFFF"/>
<rect x="464" y="320" width="8" height="16" fill="#F9FFFF"/>
<rect x="320" y="320" width="8" height="64" fill="#F5FFFF"/>
<rect x="336" y="320" width="8" height="144" fill="#81FFFF"/>
<rect x="432" y="336" width="8" height="48" fill="#B1FFFF"/>
<rect x="448" y="336" width="8" height="48" fill="#C5FFFF"/>
<rect x="464" y="336" width="8" height="48" fill="#F4FFFF"/>
<rect x="480" y="336" width="8" height="128" fill="#82FFFF"/>
<rect x="88" y="368" width="8" height="16" fill="#92FFFF"/>
<rect x="200" y="368" width="8" height="16" fill="#B8FFFF"/>
<rect x="192" y="368" width="8" height="16" fill="#BCFFFF"/>
<rect x="48" y="368" width="8" height="16" fill="#C1FFFF"/>
<rect x="120" y="368" width="16" height="16" fill="#C1FFFF"/>
<rect x="56" y="368" width="8" height="16" fill="#C2FFFF"/>
<rect x="96" y="368" width="8" height="16" fill="#CDFFFF"/>
<rect x="160" y="368" width="8" height="16" fill="#CDFFFF"/>
<rect x="168" y="368" width="8" height="16" fill="#E4FFFF"/>
<rect x="80" y="368" width="8" height="16" fill="#F0FFFF"/>
<rect x="208" y="368" width="8" height="16" fill="#FBFFFF"/>
<rect x="40" y="368" width="8" height="16" fill="#FFD4FF"/>
<rect x="152" y="368" width="8" height="16" fill="#FFF4FF"/>
<rect x="496" y="368" width="8" height="16" fill="#FFFAFF"/>
<rect x="216" y="368" width="16" height="16" fill="#FFFCFF"/>
<rect x="504" y="368" width="8" height="16" fill="#FFFEFF"/>
<rect x="432" y="384" width="8" height="16" fill="#BCFFFF"/>
<rect x="448" y="384" width="8" height="16" fill="#C8FFFF"/>
<rect x="496" y="384" width="8" height="16" fill="#EBFFFF"/>
<rect x="224" y="384" width="8" height="16" fill="#F2FFFF"/>
<rect x="216" y="384" width="8" height="16" fill="#F3FFFF"/>
<rect x="392" y="384" width="8" height="16" fill="#F6FFFF"/>
<rect x="504" y="384" width="8" height="16" fill="#F9FFFF"/>
<rect x="456" y="384" width="8" height="16" fill="#FFEFFF"/>
<rect x="424" y="384" width="8" height="16" fill="#FFF2FF"/>
<rect x="312" y="384" width="8" height="16" fill="#FFF4FF"/>
<rect x="464" y="384" width="8" height="16" fill="#FFF6FF"/>
<rect x="416" y="384" width="8" height="16" fill="#FFF7FF"/>
<rect x="320" y="384" width="8" height="16" fill="#FFFAFF"/>
<rect x="304" y="384" width="8" height="16" fill="#FFFEFF"/>
<rect x="384" y="384" width="8" height="16" fill="#FFFEFF"/>
<rect x="56" y="384" width="8" height="80" fill="#7CFFFF"/>
<rect x="168" y="384" width="8" height="80" fill="#B8FFFF"/>
<rect x="96" y="384" width="8" height="80" fill="#C0FFFF"/>
<rect x="208" y="384" width="8" height="80" fill="#F8FFFF"/>
<rect x="136" y="384" width="8" height="80" fill="#FFE8FF"/>
<rect x="360" y="400" width="8" height="16" fill="#D7FFFF"/>
<rect x="352" y="400" width="8" height="16" fill="#FFD2FF"/>
<rect x="344" y="400" width="8" height="16" fill="#FFE4FF"/>
<rect x="376" y="400" width="8" height="64" fill="#CDFFFF"/>
<rect x="448" y="400" width="8" height="64" fill="#CEFFFF"/>
<rect x="416" y="400" width="8" height="64" fill="#FFE3FF"/>
<rect x="304" y="400" width="8" height="64" fill="#FFFBFF"/>
<rect x="344" y="416" width="8" height="48" fill="#FFE3FF"/>
<rect x="48" y="464" width="8" height="16" fill="#CFFFFF"/>
<rect x="88" y="464" width="8" height="16" fill="#CFFFFF"/>
<rect x="120" y="464" width="16" height="16" fill="#CFFFFF"/>
<rect x="160" y="464" width="8" height="16" fill="#CFFFFF"/>
<rect x="200" y="464" width="8" height="16" fill="#CFFFFF"/>
<rect x="328" y="464" width="8" height="16" fill="#CFFFFF"/>
<rect x="368" y="464" width="8" height="16" fill="#CFFFFF"/>
<rect x="400" y="464" width="8" height="16" fill="#CFFFFF"/>
<rect x="440" y="464" width="8" height="16" fill="#CFFFFF"/>
<rect x="472" y="464" width="8" height="16" fill="#CFFFFF"/>
<rect x="56" y="464" width="8" height="16" fill="#D0FFFF"/>
<rect x="192" y="464" width="8" height="16" fill="#D1FFFF"/>
<rect x="336" y="464" width="8" height="16" fill="#D2FFFF"/>
<rect x="408" y="464" width="8" height="16" fill="#D2FFFF"/>
<rect x="480" y="464" width="8" height="16" fill="#D3FFFF"/>
<rect x="168" y="464" width="8" height="16" fill="#E6FFFF"/>
<rect x="96" y="464" width="8" height="16" fill="#E9FFFF"/>
<rect x="376" y="464" width="8" height="16" fill="#EDFFFF"/>
<rect x="448" y="464" width="8" height="16" fill="#EEFFFF"/>
<rect x="360" y="464" width="8" height="16" fill="#F1FFFF"/>
<rect x="432" y="464" width="8" height="16" fill="#F1FFFF"/>
<rect x="80" y="464" width="8" height="16" fill="#F5FFFF"/>
<rect x="152" y="464" width="8" height="16" fill="#F8FFFF"/>
<rect x="208" y="464" width="8" height="16" fill="#FDFFFF"/>
<rect x="32" y="464" width="8" height="16" fill="#FFEEFF"/>
<rect x="72" y="464" width="8" height="16" fill="#FFEEFF"/>
<rect x="104" y="464" width="8" height="16" fill="#FFEEFF"/>
<rect x="144" y="464" width="8" height="16" fill="#FFEEFF"/>
<rect x="176" y="464" width="16" height="16" fill="#FFEEFF"/>
<rect x="312" y="464" width="8" height="16" fill="#FFEEFF"/>
<rect x="352" y="464" width="8" height="16" fill="#FFEEFF"/>
<rect x="384" y="464" width="8" height="16" fill="#FFEEFF"/>
<rect x="424" y="464" width="8" height="16" fill="#FFEEFF"/>
<rect x="456" y="464" width="8" height="16" fill="#FFEEFF"/>
<rect x="112" y="464" width="8" height="16" fill="#FFEFFF"/>
<rect x="40" y="464" width="8" height="16" fill="#FFF0FF"/>
<rect x="320" y="464" width="8" height="16" fill="#FFF1FF"/>
<rect x="392" y="464" width="8" height="16" fill="#FFF2FF"/>
<rect x="464" y="464" width="8" height="16" fill="#FFF2FF"/>
<rect x="344" y="464" width="8" height="16" fill="#FFF5FF"/>
<rect x="416" y="464" width="8" height="16" fill="#FFF5FF"/>
<rect x="64" y="464" width="8" height="16" fill="#FFF6FF"/>
<rect x="136" y="464" width="8" height="16" fill="#FFF7FF"/>
<rect x="24" y="464" width="8" height="16" fill="#FFFEFF"/>
<rect x="304" y="464" width="8" height="16" fill="#FFFEFF"/>
</g>
<g>
<line x1="29.5" x2="216.5" y1="178.9" y2="178.9" stroke="#F9F9F9" stroke-width="0.6"/>
<line x1="29.5" x2="216.5" y1="129.5" y2="129.5" stroke="#F9F9F9" stroke-width="0.6"/>
<line x1="29.5" x2="216.5" y1="80.1" y2="80.1" stroke="#F9F9F9" stroke-width="0.6"/>
<line x1="29.5" x2="216.5" y1="30.7" y2="30.7" stroke="#F9F9F9" stroke-width="0.6"/>
<line x1="29.5" x2="216.5" y1="203.6" y2="203.6" stroke="#F3F3F3" stroke-width="0.8"/>
<line x1="29.5" x2="216.5" y1="154.2" y2="154.2" stroke="#F3F3F3" stroke-width="0.8"/>
<line x1="29.5" x2="216.5" y1="104.8" y2="104.8" stroke="#F3F3F3" stroke-width="0.8"/>
<line x1="29.5" x2="216.5" y1="55.4" y2="55.4" stroke="#F3F3F3" stroke-width="0.8"/>
<line x1="29.5" x2="216.5" y1="6" y2="6" stroke="#F3F3F3" stroke-width="0.8"/>
<line x1="50.4" x2="50.4" y1="5.5" y2="213.5" stroke="#F3F3F3" stroke-width="0.8"/>
<line x1="86.55" x2="86.55" y1="5.5" y2="213.5" stroke="#F3F3F3" stroke-width="0.8"/>
<line x1="122.7" x2="122.7" y1="5.5" y2="213.5" stroke="#F3F3F3" stroke-width="0.8"/>
<line x1="158.85" x2="158.85" y1="5.5" y2="213.5" stroke="#F3F3F3" stroke-width="0.8"/>
<line x1="195" x2="195" y1="5.5" y2="213.5" stroke="#F3F3F3" stroke-width="0.8"/>
<rect x="34.25" y="75.4" width="16.15" height="128.3" fill="#F8766D"/>
<rect x="50.4" y="146" width="16.15" height="57.7" fill="#00BFC4"/>
<rect x="70.4" y="57" width="16.15" height="146.7" fill="#F8766D"/>
<rect x="86.55" y="135" width="16.15" height="68.7" fill="#00BFC4"/>
<rect x="106.55" y="116.4" width="16.15" height="87.3" fill="#F8766D"/>
<rect x="122.7" y="165.6" width="16.15" height="38.1" fill="#00BFC4"/>
<rect x="142.7" y="14.4" width="16.15" height="189.3" fill="#F8766D"/>
<rect x="158.85" y="121" width="16.15" height="82.7" fill="#00BFC4"/>
<rect x="178.85" y="94" width="16.15" height="109.7" fill="#F8766D"/>
<rect x="195" y="152" width="16.15" height="51.7" fill="#00BFC4"/>
<rect x="224" y="108" width="6.1" height="6.9" fill="#F8766D"/>
<rect x="224" y="114.9" width="6.1" height="6.9" fill="#00BFC4"/>
</g>
<g>
<line x1="308.5" x2="496.5" y1="184.65" y2="184.65" stroke="#F9F9F9" stroke-width="0.6"/>
<line x1="308.5" x2="496.5" y1="146.75" y2="146.75" stroke="#F9F9F9" stroke-width="0.6"/>
<line x1="308.5" x2="496.5" y1="108.9" y2="108.9" stroke="#F9F9F9" stroke-width="0.6"/>
<line x1="308.5" x2="496.5" y1="71.1" y2="71.1" stroke="#F9F9F9" stroke-width="0.6"/>
<line x1="308.5" x2="496.5" y1="33.25" y2="33.25" stroke="#F9F9F9" stroke-width="0.6"/>
<line x1="308.5" x2="496.5" y1="203.6" y2="203.6" stroke="#F3F3F3" stroke-width="0.8"/>
<line x1="308.5" x2="496.5" y1="165.7" y2="165.7" stroke="#F3F3F3" stroke-width="0.8"/>
<line x1="308.5" x2="496.5" y1="127.8" y2="127.8" stroke="#F3F3F3" stroke-width="0.8"/>
<line x1="308.5" x2="496.5" y1="90" y2="90" stroke="#F3F3F3" stroke-width="0.8"/>
<line x1="308.5" x2="496.5" y1="52.2" y2="52.2" stroke="#F3F3F3" stroke-width="0.8"/>
<line x1="308.5" x2="496.5" y1="14.3" y2="14.3" stroke="#F3F3F3" stroke-width="0.8"/>
<line x1="330" x2="330" y1="5.5" y2="213.5" stroke="#F3F3F3" stroke-width="0.8"/>
<line x1="366.13" x2="366.13" y1="5.5" y2="213.5" stroke="#F3F3F3" stroke-width="0.8"/>
<line x1="402.26" x2="402.26" y1="5.5" y2="213.5" stroke="#F3F3F3" stroke-width="0.8"/>
<line x1="438.39" x2="438.39" y1="5.5" y2="213.5" stroke="#F3F3F3" stroke-width="0.8"/>
<line x1="474.52" x2="474.52" y1="5.5" y2="213.5" stroke="#F3F3F3" stroke-width="0.8"/>
<rect x="313.8" y="145.4" width="16.2" height="58.3" fill="#F8766D"/>
<rect x="330" y="65.6" width="16.2" height="138.1" fill="#00BFC4"/>
<rect x="349.93" y="142" width="16.2" height="61.7" fill="#F8766D"/>
<rect x="366.13" y="14.4" width="16.2" height="189.3" fill="#00BFC4"/>
<rect x="386.06" y="168" width="16.2" height="35.7" fill="#F8766D"/>
<rect x="402.26" y="105" width="16.2" height="98.7" fill="#00BFC4"/>
<rect x="422.19" y="119.9" width="16.2" height="83.8" fill="#F8766D"/>
<rect x="438.39" y="19.6" width="16.2" height="184.1" fill="#00BFC4"/>
<rect x="458.32" y="149.2" width="16.2" height="54.5" fill="#F8766D"/>
<rect x="474.52" y="74" width="16.2" height="129.7" fill="#00BFC4"/>
<rect x="503.4" y="108" width="6.1" height="6.9" fill="#F8766D"/>
<rect x="503.4" y="114.9" width="6.1" height="6.9" fill="#00BFC4"/>
</g>
<g>
<line x1="26.3" x2="214.5" y1="442.4" y2="442.4" stroke="#F9F9F9" stroke-width="0.6"/>
<line x1="26.3" x2="214.5" y1="387.4" y2="387.4" stroke="#F9F9F9" stroke-width="0.6"/>
<line x1="26.3" x2="214.5" y1="332.45" y2="332.45" stroke="#F9F9F9" stroke-width="0.6"/>
<line x1="26.3" x2="214.5" y1="469.9" y2="469.9" stroke="#F3F3F3" stroke-width="0.8"/>
<line x1="26.3" x2="214.5" y1="414.9" y2="414.9" stroke="#F3F3F3" stroke-width="0.8"/>
<line x1="26.3" x2="214.5" y1="359.9" y2="359.9" stroke="#F3F3F3" stroke-width="0.8"/>
<line x1="26.3" x2="214.5" y1="305" y2="305" stroke="#F3F3F3" stroke-width="0.8"/>
<line x1="47.6" x2="47.6" y1="271.5" y2="479.5" stroke="#F3F3F3" stroke-width="0.8"/>
<line x1="83.75" x2="83.75" y1="271.5" y2="479.5" stroke="#F3F3F3" stroke-width="0.8"/>
<line x1="119.9" x2="119.9" y1="271.5" y2="479.5" stroke="#F3F3F3" stroke-width="0.8"/>
<line x1="156.05" x2="156.05" y1="271.5" y2="479.5" stroke="#F3F3F3" stroke-width="0.8"/>
<line x1="192.2" x2="192.2" y1="271.5" y2="479.5" stroke="#F3F3F3" stroke-width="0.8"/>
<rect x="31.4" y="281" width="16.2" height="188.7" fill="#F8766D"/>
<rect x="47.6" y="376.6" width="16.2" height="93.1" fill="#00BFC4"/>
<rect x="67.55" y="283" width="16.2" height="186.7" fill="#F8766D"/>
<rect x="83.75" y="371" width="16.2" height="98.7" fill="#00BFC4"/>
<rect x="103.7" y="280.7" width="16.2" height="189" fill="#F8766D"/>
<rect x="119.9" y="376.6" width="16.2" height="93.1" fill="#00BFC4"/>
<rect x="139.85" y="280.7" width="16.2" height="189" fill="#F8766D"/>
<rect x="156.05" y="378" width="16.2" height="91.7" fill="#00BFC4"/>
<rect x="176" y="281.4" width="16.2" height="188.3" fill="#F8766D"/>
<rect x="192.2" y="375.6" width="16.2" height="94.1" fill="#00BFC4"/>
<rect x="221.1" y="374.2" width="6.1" height="6.9" fill="#F8766D"/>
<rect x="221.1" y="381.1" width="6.1" height="6.9" fill="#00BFC4"/>
</g>
<g>
<line x1="306" x2="492.8" y1="441.7" y2="441.7" stroke="#F9F9F9" stroke-width="0.6"/>
<line x1="306" x2="492.8" y1="385.35" y2="385.35" stroke="#F9F9F9" stroke-width="0.6"/>
<line x1="306" x2="492.8" y1="329.05" y2="329.05" stroke="#F9F9F9" stroke-width="0.6"/>
<line x1="306" x2="492.8" y1="469.9" y2="469.9" stroke="#F3F3F3" stroke-width="0.8"/>
<line x1="306" x2="492.8" y1="413.5" y2="413.5" stroke="#F3F3F3" stroke-width="0.8"/>
<line x1="306" x2="492.8" y1="357.2" y2="357.2" stroke="#F3F3F3" stroke-width="0.8"/>
<line x1="306" x2="492.8" y1="300.9" y2="300.9" stroke="#F3F3F3" stroke-width="0.8"/>
<line x1="327.4" x2="327.4" y1="271.4" y2="479.5" stroke="#F3F3F3" stroke-width="0.8"/>
<line x1="363.38" x2="363.38" y1="271.4" y2="479.5" stroke="#F3F3F3" stroke-width="0.8"/>
<line x1="399.36" x2="399.36" y1="271.4" y2="479.5" stroke="#F3F3F3" stroke-width="0.8"/>
<line x1="435.34" x2="435.34" y1="271.4" y2="479.5" stroke="#F3F3F3" stroke-width="0.8"/>
<line x1="471.32" x2="471.32" y1="271.4" y2="479.5" stroke="#F3F3F3" stroke-width="0.8"/>
<rect x="311.3" y="396.4" width="16.1" height="73.3" fill="#F8766D"/>
<rect x="327.4" y="312" width="16.1" height="157.7" fill="#00BFC4"/>
<rect x="347.28" y="400.6" width="16.1" height="69.1" fill="#F8766D"/>
<rect x="363.38" y="287" width="16.1" height="182.7" fill="#00BFC4"/>
<rect x="383.26" y="399.6" width="16.1" height="70.1" fill="#F8766D"/>
<rect x="399.36" y="280.6" width="16.1" height="189.1" fill="#00BFC4"/>
<rect x="419.24" y="395.4" width="16.1" height="74.3" fill="#F8766D"/>
<rect x="435.34" y="328.2" width="16.1" height="141.5" fill="#00BFC4"/>
<rect x="455.22" y="394.6" width="16.1" height="75.1" fill="#F8766D"/>
<rect x="471.32" y="328.2" width="16.1" height="141.5" fill="#00BFC4"/>
<rect x="499.3" y="374.2" width="6.1" height="6.9" fill="#F8766D"/>
<rect x="499.3" y="381.1" width="6.1" height="6.9" fill="#00BFC4"/>
</g>
<g>
<rect x="368" y="14.4" width="8" height="1.6" fill="#7981C4"/>
<rect x="376" y="14.4" width="6.33" height="1.6" fill="#7C80C4"/>
<rect x="366.13" y="14.4" width="1.87" height="1.6" fill="#837CC4"/>
<rect x="142.7" y="14.4" width="1.3" height="1.6" fill="#9DA46D"/>
<rect x="152" y="14.4" width="6.85" height="1.6" fill="#A4A16D"/>
<rect x="144" y="14.4" width="8" height="1.6" fill="#A5A06D"/>
<rect x="152" y="16" width="6.85" height="96" fill="#EB7D6D"/>
<rect x="366.13" y="16" width="1.87" height="112" fill="#678BC4"/>
<rect x="142.7" y="16" width="1.3" height="144" fill="#AB9D6D"/>
<rect x="376" y="16" width="6.33" height="176" fill="#1CB1C4"/>
<rect x="440" y="19.6" width="8" height="12.4" fill="#1EB0C4"/>
<rect x="448" y="19.6" width="6.59" height="12.4" fill="#31A6C4"/>
<rect x="438.39" y="19.6" width="1.61" height="12.4" fill="#7185C4"/>
<rect x="438.39" y="32" width="1.61" height="80" fill="#6B88C4"/>
<rect x="448" y="32" width="6.59" height="160" fill="#18B3C4"/>
<rect x="70.4" y="57" width="1.6" height="7" fill="#A4A16D"/>
<rect x="80" y="57" width="6.55" height="7" fill="#BD946D"/>
<rect x="72" y="57" width="8" height="7" fill="#C4906D"/>
<rect x="80" y="64" width="6.55" height="64" fill="#E77F6D"/>
<rect x="70.4" y="64" width="1.6" height="80" fill="#AE9C6D"/>
<rect x="336" y="65.6" width="8" height="14.4" fill="#0DB8C4"/>
<rect x="330" y="65.6" width="6" height="14.4" fill="#2CA9C4"/>
<rect x="344" y="65.6" width="2.2" height="14.4" fill="#658BC4"/>
<rect x="480" y="74" width="8" height="6" fill="#5494C4"/>
<rect x="474.52" y="74" width="5.48" height="6" fill="#648CC4"/>
<rect x="488" y="74" width="2.72" height="6" fill="#7583C4"/>
<rect x="48" y="75.4" width="2.4" height="4.6" fill="#A4A16D"/>
<rect x="34.25" y="75.4" width="5.75" height="4.6" fill="#AF9B6D"/>
<rect x="40" y="75.4" width="8" height="4.6" fill="#B6976D"/>
<rect x="344" y="80" width="2.2" height="48" fill="#618DC4"/>
<rect x="330" y="80" width="6" height="64" fill="#22AEC4"/>
<rect x="474.52" y="80" width="5.48" height="64" fill="#2AA9C4"/>
<rect x="48" y="80" width="2.4" height="64" fill="#B7976D"/>
<rect x="488" y="80" width="2.72" height="112" fill="#5992C4"/>
<rect x="34.25" y="80" width="5.75" height="112" fill="#DE836D"/>
<rect x="192" y="94" width="3" height="2" fill="#A0A36D"/>
<rect x="178.85" y="94" width="5.15" height="2" fill="#A3A16D"/>
<rect x="184" y="94" width="8" height="2" fill="#A79F6D"/>
<rect x="192" y="96" width="3" height="48" fill="#BE936D"/>
<rect x="178.85" y="96" width="5.15" height="96" fill="#D7876D"/>
<rect x="408" y="105" width="8" height="7" fill="#4C98C4"/>
<rect x="402.26" y="105" width="5.74" height="7" fill="#5C90C4"/>
<rect x="416" y="105" width="2.46" height="7" fill="#7484C4"/>
<rect x="503.4" y="108" width="0.6" height="4" fill="#9EA46D"/>
<rect x="504" y="108" width="5.5" height="4" fill="#AC9D6D"/>
<rect x="224" y="108" width="6.1" height="4" fill="#AD9C6D"/>
<rect x="224" y="112" width="6.1" height="2.9" fill="#7CB56D"/>
<rect x="504" y="112" width="5.5" height="2.9" fill="#7FB36D"/>
<rect x="503.4" y="112" width="0.6" height="2.9" fill="#99A76D"/>
<rect x="416" y="112" width="2.46" height="16" fill="#688AC4"/>
<rect x="438.39" y="112" width="1.61" height="16" fill="#9175C4"/>
<rect x="152" y="112" width="6.85" height="16" fill="#E2816D"/>
<rect x="402.26" y="112" width="5.74" height="48" fill="#26ACC4"/>
<rect x="224" y="114.9" width="6.1" height="6.9" fill="#678BC4"/>
<rect x="504" y="114.9" width="5.5" height="6.9" fill="#6A89C4"/>
<rect x="503.4" y="114.9" width="0.6" height="6.9" fill="#837CC4"/>
<rect x="120" y="116.4" width="2.7" height="11.6" fill="#B2996D"/>
<rect x="106.55" y="116.4" width="5.45" height="11.6" fill="#C98E6D"/>
<rect x="112" y="116.4" width="8" height="11.6" fill="#DF836D"/>
<rect x="422.19" y="119.9" width="1.81" height="8.1" fill="#7DB56D"/>
<rect x="432" y="119.9" width="6.39" height="8.1" fill="#A6A06D"/>
<rect x="424" y="119.9" width="8" height="8.1" fill="#CA8D6D"/>
<rect x="160" y="121" width="8" height="7" fill="#4C98C4"/>
<rect x="168" y="121" width="7" height="7" fill="#5395C4"/>
<rect x="158.85" y="121" width="1.15" height="7" fill="#CD57C4"/>
<rect x="344" y="128" width="2.2" height="16" fill="#648CC4"/>
<rect x="366.13" y="128" width="1.87" height="16" fill="#7086C4"/>
<rect x="80" y="128" width="6.55" height="16" fill="#DA856D"/>
<rect x="120" y="128" width="2.7" height="32" fill="#BB956D"/>
<rect x="168" y="128" width="7" height="64" fill="#11B6C4"/>
<rect x="416" y="128" width="2.46" height="64" fill="#7285C4"/>
<rect x="422.19" y="128" width="1.81" height="64" fill="#87AF6D"/>
<rect x="438.39" y="128" width="1.61" height="64" fill="#B563C4"/>
<rect x="158.85" y="128" width="1.15" height="64" fill="#C25CC4"/>
<rect x="432" y="128" width="6.39" height="64" fill="#CA8D6D"/>
<rect x="152" y="128" width="6.85" height="64" fill="#D7876D"/>
<rect x="106.55" y="128" width="5.45" height="64" fill="#DB856D"/>
<rect x="88" y="135" width="8" height="9" fill="#3BA1C4"/>
<rect x="96" y="135" width="6.7" height="9" fill="#479BC4"/>
<rect x="86.55" y="135" width="1.45" height="9" fill="#C45BC4"/>
<rect x="349.93" y="142" width="2.07" height="2" fill="#7AB66D"/>
<rect x="360" y="142" width="6.13" height="2" fill="#85B06D"/>
<rect x="352" y="142" width="8" height="2" fill="#A79F6D"/>
<rect x="330" y="144" width="6" height="16" fill="#37A3C4"/>
<rect x="474.52" y="144" width="5.48" height="16" fill="#3E9FC4"/>
<rect x="48" y="144" width="2.4" height="16" fill="#65C16D"/>
<rect x="70.4" y="144" width="1.6" height="16" fill="#89AF6D"/>
<rect x="192" y="144" width="3" height="16" fill="#94A96D"/>
<rect x="96" y="144" width="6.7" height="48" fill="#16B4C4"/>
<rect x="344" y="144" width="2.2" height="48" fill="#7981C4"/>
<rect x="349.93" y="144" width="2.07" height="48" fill="#8FAC6D"/>
<rect x="366.13" y="144" width="1.87" height="48" fill="#AE67C4"/>
<rect x="86.55" y="144" width="1.45" height="48" fill="#BA60C4"/>
<rect x="360" y="144" width="6.13" height="48" fill="#C3916D"/>
<rect x="80" y="144" width="6.55" height="48" fill="#CF8B6D"/>
<rect x="328" y="145.4" width="2" height="14.6" fill="#4CCE6D"/>
<rect x="313.8" y="145.4" width="6.2" height="14.6" fill="#DD846D"/>
<rect x="320" y="145.4" width="8" height="14.6" fill="#F07A6D"/>
<rect x="56" y="146" width="8" height="14" fill="#11B6C4"/>
<rect x="50.4" y="146" width="5.6" height="14" fill="#5096C4"/>
<rect x="64" y="146" width="2.55" height="14" fill="#7384C4"/>
<rect x="472" y="149.2" width="2.52" height="10.8" fill="#53CA6D"/>
<rect x="458.32" y="149.2" width="5.68" height="10.8" fill="#C88E6D"/>
<rect x="464" y="149.2" width="8" height="10.8" fill="#DA856D"/>
<rect x="200" y="152" width="8" height="8" fill="#439DC4"/>
<rect x="208" y="152" width="3.15" height="8" fill="#6C88C4"/>
<rect x="195" y="152" width="5" height="8" fill="#7F7EC4"/>
<rect x="402.26" y="160" width="5.74" height="16" fill="#33A5C4"/>
<rect x="120" y="160" width="2.7" height="16" fill="#81B36D"/>
<rect x="142.7" y="160" width="1.3" height="16" fill="#8CAD6D"/>
<rect x="330" y="160" width="6" height="32" fill="#39A2C4"/>
<rect x="50.4" y="160" width="5.6" height="32" fill="#449CC4"/>
<rect x="474.52" y="160" width="5.48" height="32" fill="#479BC4"/>
<rect x="328" y="160" width="2" height="32" fill="#4ECD6D"/>
<rect x="208" y="160" width="3.15" height="32" fill="#5295C4"/>
<rect x="195" y="160" width="5" height="32" fill="#5594C4"/>
<rect x="48" y="160" width="2.4" height="32" fill="#59C76D"/>
<rect x="472" y="160" width="2.52" height="32" fill="#5DC56D"/>
<rect x="192" y="160" width="3" height="32" fill="#6ABE6D"/>
<rect x="64" y="160" width="2.55" height="32" fill="#6E87C4"/>
<rect x="70.4" y="160" width="1.6" height="32" fill="#83B16D"/>
<rect x="458.32" y="160" width="5.68" height="32" fill="#DD846D"/>
<rect x="313.8" y="160" width="6.2" height="32" fill="#E3816D"/>
<rect x="128" y="165.6" width="8" height="10.4" fill="#2FA7C4"/>
<rect x="122.7" y="165.6" width="5.3" height="10.4" fill="#6C88C4"/>
<rect x="136" y="165.6" width="2.85" height="10.4" fill="#7683C4"/>
<rect x="400" y="168" width="2.26" height="8" fill="#48CF6D"/>
<rect x="386.06" y="168" width="5.94" height="8" fill="#BE946D"/>
<rect x="392" y="168" width="8" height="8" fill="#CA8D6D"/>
<rect x="402.26" y="176" width="5.74" height="16" fill="#409EC4"/>
<rect x="122.7" y="176" width="5.3" height="16" fill="#4C98C4"/>
<rect x="400" y="176" width="2.26" height="16" fill="#55C96D"/>
<rect x="120" y="176" width="2.7" height="16" fill="#62C26D"/>
<rect x="136" y="176" width="2.85" height="16" fill="#668BC4"/>
<rect x="142.7" y="176" width="1.3" height="16" fill="#7BB66D"/>
<rect x="386.06" y="176" width="5.94" height="16" fill="#E0826D"/>
<rect x="56" y="192" width="8" height="11.7" fill="#24ADC4"/>
<rect x="88" y="192" width="8" height="11.7" fill="#24ADC4"/>
<rect x="128" y="192" width="8" height="11.7" fill="#24ADC4"/>
<rect x="160" y="192" width="8" height="11.7" fill="#24ADC4"/>
<rect x="200" y="192" width="8" height="11.7" fill="#24ADC4"/>
<rect x="336" y="192" width="8" height="11.7" fill="#24ADC4"/>
<rect x="368" y="192" width="8" height="11.7" fill="#24ADC4"/>
<rect x="408" y="192" width="8" height="11.7" fill="#24ADC4"/>
<rect x="440" y="192" width="8" height="11.7" fill="#24ADC4"/>
<rect x="480" y="192" width="8" height="11.7" fill="#24ADC4"/>
<rect x="168" y="192" width="7" height="11.7" fill="#30A6C4"/>
<rect x="96" y="192" width="6.7" height="11.7" fill="#34A4C4"/>
<rect x="448" y="192" width="6.59" height="11.7" fill="#35A4C4"/>
<rect x="376" y="192" width="6.33" height="11.7" fill="#39A2C4"/>
<rect x="330" y="192" width="6" height="11.7" fill="#4E97C4"/>
<rect x="402.26" y="192" width="5.74" height="11.7" fill="#5395C4"/>
<rect x="50.4" y="192" width="5.6" height="11.7" fill="#5693C4"/>
<rect x="474.52" y="192" width="5.48" height="11.7" fill="#5892C4"/>
<rect x="122.7" y="192" width="5.3" height="11.7" fill="#5C90C4"/>
<rect x="208" y="192" width="3.15" height="11.7" fill="#608EC4"/>
<rect x="195" y="192" width="5" height="11.7" fill="#628DC4"/>
<rect x="328" y="192" width="2" height="11.7" fill="#63C26D"/>
<rect x="488" y="192" width="2.72" height="11.7" fill="#658CC4"/>
<rect x="400" y="192" width="2.26" height="11.7" fill="#68BF6D"/>
<rect x="48" y="192" width="2.4" height="11.7" fill="#6BBE6D"/>
<rect x="136" y="192" width="2.85" height="11.7" fill="#6E87C4"/>
<rect x="472" y="192" width="2.52" height="11.7" fill="#6EBC6D"/>
<rect x="120" y="192" width="2.7" height="11.7" fill="#71BB6D"/>
<rect x="64" y="192" width="2.55" height="11.7" fill="#7584C4"/>
<rect x="416" y="192" width="2.46" height="11.7" fill="#7782C4"/>
<rect x="192" y="192" width="3" height="11.7" fill="#78B76D"/>
<rect x="344" y="192" width="2.2" height="11.7" fill="#7D7FC4"/>
<rect x="142.7" y="192" width="1.3" height="11.7" fill="#84B16D"/>
<rect x="70.4" y="192" width="1.6" height="11.7" fill="#8AAE6D"/>
<rect x="422.19" y="192" width="1.81" height="11.7" fill="#8DAD6D"/>
<rect x="349.93" y="192" width="2.07" height="11.7" fill="#92AA6D"/>
<rect x="366.13" y="192" width="1.87" height="11.7" fill="#A36CC4"/>
<rect x="438.39" y="192" width="1.61" height="11.7" fill="#A969C4"/>
<rect x="86.55" y="192" width="1.45" height="11.7" fill="#AC67C4"/>
<rect x="158.85" y="192" width="1.15" height="11.7" fill="#B264C4"/>
<rect x="360" y="192" width="6.13" height="11.7" fill="#B8966D"/>
<rect x="432" y="192" width="6.39" height="11.7" fill="#BE946D"/>
<rect x="80" y="192" width="6.55" height="11.7" fill="#C1926D"/>
<rect x="152" y="192" width="6.85" height="11.7" fill="#C78F6D"/>
<rect x="178.85" y="192" width="5.15" height="11.7" fill="#C78F6D"/>
<rect x="106.55" y="192" width="5.45" height="11.7" fill="#CA8E6D"/>
<rect x="34.25" y="192" width="5.75" height="11.7" fill="#CC8C6D"/>
<rect x="458.32" y="192" width="5.68" height="11.7" fill="#CC8D6D"/>
<rect x="386.06" y="192" width="5.94" height="11.7" fill="#CE8B6D"/>
<rect x="313.8" y="192" width="6.2" height="11.7" fill="#D08A6D"/>
<rect x="40" y="192" width="8" height="11.7" fill="#DF836D"/>
<rect x="72" y="192" width="8" height="11.7" fill="#DF836D"/>
<rect x="112" y="192" width="8" height="11.7" fill="#DF836D"/>
<rect x="144" y="192" width="8" height="11.7" fill="#DF836D"/>
<rect x="184" y="192" width="8" height="11.7" fill="#DF836D"/>
<rect x="320" y="192" width="8" height="11.7" fill="#DF836D"/>
<rect x="352" y="192" width="8" height="11.7" fill="#DF836D"/>
<rect x="392" y="192" width="8" height="11.7" fill="#DF836D"/>
<rect x="424" y="192" width="8" height="11.7" fill="#DF836D"/>
<rect x="464" y="192" width="8" height="11.7" fill="#DF836D"/>
<rect x="400" y="280.6" width="8" height="7.4" fill="#489AC4"/>
<rect x="408" y="280.6" width="7.46" height="7.4" fill="#4C98C4"/>
<rect x="399.36" y="280.6" width="0.64" height="7.4" fill="#817DC4"/>
<rect x="103.7" y="280.7" width="0.3" height="7.3" fill="#9DA46D"/>
<rect x="152" y="280.7" width="4.05" height="7.3" fill="#B19A6D"/>
<rect x="139.85" y="280.7" width="4.15" height="7.3" fill="#B29A6D"/>
<rect x="112" y="280.7" width="7.9" height="7.3" fill="#C5906D"/>
<rect x="104" y="280.7" width="8" height="7.3" fill="#C6906D"/>
<rect x="144" y="280.7" width="8" height="7.3" fill="#C6906D"/>
<rect x="31.4" y="281" width="0.6" height="7" fill="#9FA36D"/>
<rect x="40" y="281" width="7.6" height="7" fill="#C2916D"/>
<rect x="32" y="281" width="8" height="7" fill="#C4906D"/>
<rect x="192" y="281.4" width="0.2" height="6.6" fill="#9DA46D"/>
<rect x="176" y="281.4" width="16" height="6.6" fill="#C2926D"/>
<rect x="80" y="283" width="3.75" height="5" fill="#A99E6D"/>
<rect x="67.55" y="283" width="4.45" height="5" fill="#AC9D6D"/>
<rect x="72" y="283" width="8" height="5" fill="#B9966D"/>
<rect x="368" y="287" width="8" height="1" fill="#7E7FC4"/>
<rect x="363.38" y="287" width="4.62" height="1" fill="#827DC4"/>
<rect x="376" y="287" width="3.48" height="1" fill="#837CC4"/>
<rect x="192" y="288" width="0.2" height="80" fill="#9EA46D"/>
<rect x="103.7" y="288" width="0.3" height="80" fill="#9FA36D"/>
<rect x="80" y="288" width="3.75" height="80" fill="#C78F6D"/>
<rect x="152" y="288" width="4.05" height="80" fill="#CA8D6D"/>
<rect x="139.85" y="288" width="4.15" height="80" fill="#CC8D6D"/>
<rect x="40" y="288" width="7.6" height="80" fill="#F3786D"/>
<rect x="399.36" y="288" width="0.64" height="96" fill="#7C80C4"/>
<rect x="363.38" y="288" width="4.62" height="112" fill="#39A2C4"/>
<rect x="376" y="288" width="3.48" height="112" fill="#4C98C4"/>
<rect x="408" y="288" width="7.46" height="176" fill="#09BAC4"/>
<rect x="31.4" y="288" width="0.6" height="176" fill="#A3A16D"/>
<rect x="67.55" y="288" width="4.45" height="176" fill="#CF8B6D"/>
<rect x="328" y="312" width="8" height="8" fill="#439DC4"/>
<rect x="336" y="312" width="7.5" height="8" fill="#479BC4"/>
<rect x="327.4" y="312" width="0.6" height="8" fill="#817DC4"/>
<rect x="327.4" y="320" width="0.6" height="64" fill="#7C80C4"/>
<rect x="336" y="320" width="7.5" height="144" fill="#08BBC4"/>
<rect x="440" y="328.2" width="8" height="7.8" fill="#459CC4"/>
<rect x="472" y="328.2" width="8" height="7.8" fill="#459CC4"/>
<rect x="480" y="328.2" width="7.42" height="7.8" fill="#4A99C4"/>
<rect x="435.34" y="328.2" width="4.66" height="7.8" fill="#608EC4"/>
<rect x="448" y="328.2" width="3.44" height="7.8" fill="#6A89C4"/>
<rect x="471.32" y="328.2" width="0.68" height="7.8" fill="#817DC4"/>
<rect x="435.34" y="336" width="4.66" height="48" fill="#38A2C4"/>
<rect x="448" y="336" width="3.44" height="48" fill="#4D98C4"/>
<rect x="471.32" y="336" width="0.68" height="48" fill="#7B80C4"/>
<rect x="480" y="336" width="7.42" height="128" fill="#0ABAC4"/>
<rect x="192" y="368" width="0.2" height="16" fill="#59C76D"/>
<rect x="103.7" y="368" width="0.3" height="16" fill="#69BF6D"/>
<rect x="80" y="368" width="3.75" height="16" fill="#8DAD6D"/>
<rect x="152" y="368" width="4.05" height="16" fill="#B29A6D"/>
<rect x="139.85" y="368" width="4.15" height="16" fill="#CB8D6D"/>
<rect x="40" y="368" width="7.6" height="16" fill="#F07A6D"/>
<rect x="88" y="371" width="8" height="13" fill="#19B2C4"/>
<rect x="96" y="371" width="3.95" height="13" fill="#5494C4"/>
<rect x="83.75" y="371" width="4.25" height="13" fill="#7882C4"/>
<rect x="504" y="374.2" width="1.4" height="6.9" fill="#9FA46D"/>
<rect x="221.1" y="374.2" width="2.9" height="6.9" fill="#A1A26D"/>
<rect x="224" y="374.2" width="3.2" height="6.9" fill="#A2A26D"/>
<rect x="499.3" y="374.2" width="4.7" height="6.9" fill="#A5A06D"/>
<rect x="200" y="375.6" width="8" height="8.4" fill="#409EC4"/>
<rect x="192.2" y="375.6" width="7.8" height="8.4" fill="#449CC4"/>
<rect x="208" y="375.6" width="0.4" height="8.4" fill="#837CC4"/>
<rect x="48" y="376.6" width="8" height="7.4" fill="#489AC4"/>
<rect x="120" y="376.6" width="16" height="7.4" fill="#489AC4"/>
<rect x="56" y="376.6" width="7.8" height="7.4" fill="#4A99C4"/>
<rect x="47.6" y="376.6" width="0.4" height="7.4" fill="#DB4FC4"/>
<rect x="119.9" y="376.6" width="0.1" height="7.4" fill="#E14DC4"/>
<rect x="136" y="376.6" width="0.1" height="87.4" fill="#B563C4"/>
<rect x="160" y="378" width="8" height="6" fill="#5494C4"/>
<rect x="168" y="378" width="4.25" height="6" fill="#6C88C4"/>
<rect x="156.05" y="378" width="3.95" height="6" fill="#9C6FC4"/>
<rect x="504" y="381.1" width="1.4" height="2.9" fill="#8979C4"/>
<rect x="221.1" y="381.1" width="2.9" height="2.9" fill="#8C78C4"/>
<rect x="224" y="381.1" width="3.2" height="2.9" fill="#8D77C4"/>
<rect x="499.3" y="381.1" width="4.7" height="2.9" fill="#8F76C4"/>
<rect x="499.3" y="384" width="4.7" height="4" fill="#7385C4"/>
<rect x="224" y="384" width="3.2" height="4" fill="#7981C4"/>
<rect x="221.1" y="384" width="2.9" height="4" fill="#7A81C4"/>
<rect x="504" y="384" width="1.4" height="4" fill="#817EC4"/>
<rect x="435.34" y="384" width="4.66" height="16" fill="#439DC4"/>
<rect x="448" y="384" width="3.44" height="16" fill="#5096C4"/>
<rect x="399.36" y="384" width="0.64" height="16" fill="#7E7FC4"/>
<rect x="327.4" y="384" width="0.6" height="16" fill="#9076C4"/>
<rect x="471.32" y="384" width="0.68" height="16" fill="#9772C4"/>
<rect x="56" y="384" width="7.8" height="80" fill="#03BDC4"/>
<rect x="192.2" y="384" width="7.8" height="80" fill="#06BCC4"/>
<rect x="192" y="384" width="0.2" height="80" fill="#1BE76D"/>
<rect x="168" y="384" width="4.25" height="80" fill="#3F9FC4"/>
<rect x="96" y="384" width="3.95" height="80" fill="#489BC4"/>
<rect x="103.7" y="384" width="0.3" height="80" fill="#5DC56D"/>
<rect x="83.75" y="384" width="4.25" height="80" fill="#6A89C4"/>
<rect x="156.05" y="384" width="3.95" height="80" fill="#7385C4"/>
<rect x="208" y="384" width="0.4" height="80" fill="#807EC4"/>
<rect x="80" y="384" width="3.75" height="80" fill="#80B36D"/>
<rect x="152" y="384" width="4.05" height="80" fill="#88AF6D"/>
<rect x="139.85" y="384" width="4.15" height="80" fill="#CA8D6D"/>
<rect x="47.6" y="384" width="0.4" height="80" fill="#D751C4"/>
<rect x="119.9" y="384" width="0.1" height="80" fill="#E04DC4"/>
<rect x="40" y="384" width="7.6" height="80" fill="#ED7C6D"/>
<rect x="112" y="384" width="7.9" height="80" fill="#F5776D"/>
<rect x="455.22" y="394.6" width="0.78" height="5.4" fill="#65C16D"/>
<rect x="464" y="394.6" width="7.32" height="5.4" fill="#AD9C6D"/>
<rect x="456" y="394.6" width="8" height="5.4" fill="#BB956D"/>
<rect x="432" y="395.4" width="3.34" height="4.6" fill="#59C76D"/>
<rect x="419.24" y="395.4" width="4.76" height="4.6" fill="#AC9D6D"/>
<rect x="424" y="395.4" width="8" height="4.6" fill="#B6976D"/>
<rect x="311.3" y="396.4" width="0.7" height="3.6" fill="#9EA46D"/>
<rect x="320" y="396.4" width="7.4" height="3.6" fill="#A5A06D"/>
<rect x="312" y="396.4" width="8" height="3.6" fill="#B19A6D"/>
<rect x="383.26" y="399.6" width="0.74" height="0.4" fill="#62C36D"/>
<rect x="392" y="399.6" width="7.36" height="0.4" fill="#93A96D"/>
<rect x="384" y="399.6" width="8" height="0.4" fill="#9EA46D"/>
<rect x="363.38" y="400" width="4.62" height="16" fill="#5E8FC4"/>
<rect x="376" y="400" width="3.48" height="64" fill="#5494C4"/>
<rect x="448" y="400" width="3.44" height="64" fill="#5693C4"/>
<rect x="435.34" y="400" width="4.66" height="64" fill="#5F8FC4"/>
<rect x="383.26" y="400" width="0.74" height="64" fill="#6ABE6D"/>
<rect x="455.22" y="400" width="0.78" height="64" fill="#6BBE6D"/>
<rect x="432" y="400" width="3.34" height="64" fill="#74B96D"/>
<rect x="311.3" y="400" width="0.7" height="64" fill="#A4A16D"/>
<rect x="471.32" y="400" width="0.68" height="64" fill="#CF55C4"/>
<rect x="399.36" y="400" width="0.64" height="64" fill="#D055C4"/>
<rect x="327.4" y="400" width="0.6" height="64" fill="#D254C4"/>
<rect x="419.24" y="400" width="4.76" height="64" fill="#D3896D"/>
<rect x="464" y="400" width="7.32" height="64" fill="#E5806D"/>
<rect x="392" y="400" width="7.36" height="64" fill="#E67F6D"/>
<rect x="320" y="400" width="7.4" height="64" fill="#E77F6D"/>
<rect x="360" y="400.6" width="3.38" height="15.4" fill="#74B96D"/>
<rect x="347.28" y="400.6" width="4.72" height="15.4" fill="#D08A6D"/>
<rect x="352" y="400.6" width="8" height="15.4" fill="#F5786D"/>
<rect x="363.38" y="416" width="4.62" height="48" fill="#608EC4"/>
<rect x="360" y="416" width="3.38" height="48" fill="#75B96D"/>
<rect x="347.28" y="416" width="4.72" height="48" fill="#D2896D"/>
<rect x="48" y="464" width="8" height="5.7" fill="#5793C4"/>
<rect x="88" y="464" width="8" height="5.7" fill="#5793C4"/>
<rect x="120" y="464" width="16" height="5.7" fill="#5793C4"/>
<rect x="160" y="464" width="8" height="5.7" fill="#5793C4"/>
<rect x="200" y="464" width="8" height="5.7" fill="#5793C4"/>
<rect x="328" y="464" width="8" height="5.7" fill="#5793C4"/>
<rect x="368" y="464" width="8" height="5.7" fill="#5793C4"/>
<rect x="400" y="464" width="8" height="5.7" fill="#5793C4"/>
<rect x="440" y="464" width="8" height="5.7" fill="#5793C4"/>
<rect x="472" y="464" width="8" height="5.7" fill="#5793C4"/>
<rect x="56" y="464" width="7.8" height="5.7" fill="#5892C4"/>
<rect x="192.2" y="464" width="7.8" height="5.7" fill="#5992C4"/>
<rect x="336" y="464" width="7.5" height="5.7" fill="#5A91C4"/>
<rect x="408" y="464" width="7.46" height="5.7" fill="#5A91C4"/>
<rect x="480" y="464" width="7.42" height="5.7" fill="#5A91C4"/>
<rect x="168" y="464" width="4.25" height="5.7" fill="#6D87C4"/>
<rect x="192" y="464" width="0.2" height="5.7" fill="#6EBC6D"/>
<rect x="96" y="464" width="3.95" height="5.7" fill="#7086C4"/>
<rect x="448" y="464" width="3.44" height="5.7" fill="#7583C4"/>
<rect x="376" y="464" width="3.48" height="5.7" fill="#7584C4"/>
<rect x="435.34" y="464" width="4.66" height="5.7" fill="#7882C4"/>
<rect x="363.38" y="464" width="4.62" height="5.7" fill="#7982C4"/>
<rect x="83.75" y="464" width="4.25" height="5.7" fill="#7C80C4"/>
<rect x="156.05" y="464" width="3.95" height="5.7" fill="#7F7EC4"/>
<rect x="208" y="464" width="0.4" height="5.7" fill="#847CC4"/>
<rect x="103.7" y="464" width="0.3" height="5.7" fill="#85B06D"/>
<rect x="383.26" y="464" width="0.74" height="5.7" fill="#8AAE6D"/>
<rect x="455.22" y="464" width="0.78" height="5.7" fill="#8AAE6D"/>
<rect x="360" y="464" width="3.38" height="5.7" fill="#8EAC6D"/>
<rect x="432" y="464" width="3.34" height="5.7" fill="#8EAC6D"/>
<rect x="80" y="464" width="3.75" height="5.7" fill="#92AA6D"/>
<rect x="152" y="464" width="4.05" height="5.7" fill="#95A96D"/>
<rect x="136" y="464" width="0.1" height="5.7" fill="#9772C4"/>
<rect x="31.4" y="464" width="0.6" height="5.7" fill="#9EA46D"/>
<rect x="311.3" y="464" width="0.7" height="5.7" fill="#9FA36D"/>
<rect x="471.32" y="464" width="0.68" height="5.7" fill="#A06DC4"/>
<rect x="327.4" y="464" width="0.6" height="5.7" fill="#A16DC4"/>
<rect x="399.36" y="464" width="0.64" height="5.7" fill="#A16DC4"/>
<rect x="47.6" y="464" width="0.4" height="5.7" fill="#A36CC4"/>
<rect x="119.9" y="464" width="0.1" height="5.7" fill="#A66AC4"/>
<rect x="139.85" y="464" width="4.15" height="5.7" fill="#AC9D6D"/>
<rect x="67.55" y="464" width="4.45" height="5.7" fill="#AE9C6D"/>
<rect x="347.28" y="464" width="4.72" height="5.7" fill="#AF9B6D"/>
<rect x="419.24" y="464" width="4.76" height="5.7" fill="#AF9B6D"/>
<rect x="392" y="464" width="7.36" height="5.7" fill="#B6986D"/>
<rect x="464" y="464" width="7.32" height="5.7" fill="#B6986D"/>
<rect x="320" y="464" width="7.4" height="5.7" fill="#B7976D"/>
<rect x="40" y="464" width="7.6" height="5.7" fill="#B9966D"/>
<rect x="112" y="464" width="7.9" height="5.7" fill="#BC956D"/>
<rect x="32" y="464" width="8" height="5.7" fill="#BD946D"/>
<rect x="72" y="464" width="8" height="5.7" fill="#BD946D"/>
<rect x="104" y="464" width="8" height="5.7" fill="#BD946D"/>
<rect x="144" y="464" width="8" height="5.7" fill="#BD946D"/>
<rect x="176" y="464" width="16" height="5.7" fill="#BD946D"/>
<rect x="312" y="464" width="8" height="5.7" fill="#BD946D"/>
<rect x="352" y="464" width="8" height="5.7" fill="#BD946D"/>
<rect x="384" y="464" width="8" height="5.7" fill="#BD946D"/>
<rect x="424" y="464" width="8" height="5.7" fill="#BD946D"/>
<rect x="456" y="464" width="8" height="5.7" fill="#BD946D"/>
</g>
<g>
<rect x="33.5" y="288" width="6.5" height="27" fill="#FF5E68"/>
<rect x="42.6" y="324" width="5" height="12" fill="#BD8F68"/>
<rect x="31.4" y="336" width="8.6" height="8" fill="#BD8F68"/>
<rect x="31.4" y="344" width="8.6" height="8" fill="#FF5E68"/>
<rect x="40" y="320" width="3.5" height="48" fill="#FF5E68"/>
<rect x="31.4" y="352" width="3.6" height="32" fill="#FF5E68"/>
<rect x="35.5" y="352" width="4.5" height="32" fill="#BD8F68"/>
<rect x="43.5" y="336" width="4.1" height="48" fill="#BD8F68"/>
<rect x="31.4" y="288" width="1.6" height="96" fill="#FF4A6C"/>
<rect x="72.6" y="297" width="7.4" height="41" fill="#FF5E68"/>
<rect x="72" y="338" width="4" height="46" fill="#FF5E68"/>
<rect x="76" y="338" width="3.2" height="46" fill="#BD8F68"/>
<rect x="79.2" y="320" width="1.3" height="64" fill="#6EBC6E"/>
<rect x="78.4" y="283" width="1.9" height="13" fill="#6EBC6E"/>
<rect x="104" y="288" width="12" height="16" fill="#FF5E68"/>
<rect x="104" y="304" width="11" height="7" fill="#BD8F68"/>
<rect x="104" y="311" width="11" height="8" fill="#FF4A6C"/>
<rect x="103.7" y="319" width="2.8" height="65" fill="#FF5E68"/>
<rect x="106.5" y="319" width="8.5" height="26" fill="#BD8F68"/>
<rect x="112" y="345" width="4" height="39" fill="#BD8F68"/>
<rect x="31.4" y="384" width="16.2" height="12" fill="#BD8F68"/>
<rect x="31.4" y="400" width="16.2" height="12" fill="#BD8F68"/>
<rect x="31.4" y="396" width="16.2" height="4" fill="#FF4A6C"/>
<rect x="31.4" y="412" width="16.2" height="4" fill="#FF4A6C"/>
<rect x="47.6" y="384" width="16.2" height="12" fill="#3E9AC6"/>
<rect x="47.6" y="400" width="16.2" height="12" fill="#3E9AC6"/>
<rect x="47.6" y="396" width="16.2" height="4" fill="#0AD6BA"/>
<rect x="47.6" y="412" width="16.2" height="4" fill="#0AD6BA"/>
<rect x="67.55" y="384" width="16.2" height="12" fill="#BD8F68"/>
<rect x="67.55" y="400" width="16.2" height="12" fill="#BD8F68"/>
<rect x="67.55" y="396" width="16.2" height="4" fill="#FF4A6C"/>
<rect x="67.55" y="412" width="16.2" height="4" fill="#FF4A6C"/>
<rect x="83.75" y="384" width="16.2" height="12" fill="#3E9AC6"/>
<rect x="83.75" y="400" width="16.2" height="12" fill="#3E9AC6"/>
<rect x="83.75" y="396" width="16.2" height="4" fill="#0AD6BA"/>
<rect x="83.75" y="412" width="16.2" height="4" fill="#0AD6BA"/>
<rect x="103.7" y="384" width="9.3" height="12" fill="#BD8F68"/>
<rect x="103.7" y="400" width="9.3" height="12" fill="#BD8F68"/>
<rect x="103.7" y="396" width="9.3" height="4" fill="#FF4A6C"/>
<rect x="103.7" y="412" width="9.3" height="4" fill="#FF4A6C"/>
<rect x="221.1" y="374.2" width="6.1" height="6.9" fill="#BC8C64"/>
<rect x="221.1" y="381.1" width="6.1" height="6.9" fill="#7C7AC8"/>
<rect x="79.5" y="384" width="1.3" height="32" fill="#6EBC6E"/>
<rect x="95" y="384" width="1.2" height="32" fill="#E04AD0"/>
<rect x="88" y="384" width="1.3" height="32" fill="#8A6AD0"/>
</g>
<g filter="url(#gs)">
<rect x="29.5" y="5.5" width="187" height="208" fill="none" stroke="#A3A3A3" stroke-width="1"/>
<line x1="27.9" x2="29.5" y1="203.6" y2="203.6" stroke="#8A8A8A" stroke-width="0.7"/>
<text x="27.2" y="206.35" font-size="6.5" fill="#4D4D4D" text-anchor="end" textLength="14.51" lengthAdjust="spacingAndGlyphs">0.000</text>
<line x1="27.9" x2="29.5" y1="154.2" y2="154.2" stroke="#8A8A8A" stroke-width="0.7"/>
<text x="27.2" y="156.95" font-size="6.5" fill="#4D4D4D" text-anchor="end" textLength="14.51" lengthAdjust="spacingAndGlyphs">0.025</text>
<line x1="27.9" x2="29.5" y1="104.8" y2="104.8" stroke="#8A8A8A" stroke-width="0.7"/>
<text x="27.2" y="107.55" font-size="6.5" fill="#4D4D4D" text-anchor="end" textLength="14.51" lengthAdjust="spacingAndGlyphs">0.050</text>
<line x1="27.9" x2="29.5" y1="55.4" y2="55.4" stroke="#8A8A8A" stroke-width="0.7"/>
<text x="27.2" y="58.15" font-size="6.5" fill="#4D4D4D" text-anchor="end" textLength="14.51" lengthAdjust="spacingAndGlyphs">0.075</text>
<line x1="27.9" x2="29.5" y1="6" y2="6" stroke="#8A8A8A" stroke-width="0.7"/>
<text x="27.2" y="8.75" font-size="6.5" fill="#4D4D4D" text-anchor="end" textLength="14.51" lengthAdjust="spacingAndGlyphs">0.100</text>
<line x1="50.4" x2="50.4" y1="213.5" y2="215.3" stroke="#8A8A8A" stroke-width="0.7"/>
<text transform="translate(52.8,216.1) rotate(-90)" font-size="6.2" fill="#4D4D4D" text-anchor="end" textLength="7.3" lengthAdjust="spacingAndGlyphs">AT</text>
<line x1="86.55" x2="86.55" y1="213.5" y2="215.3" stroke="#8A8A8A" stroke-width="0.7"/>
<text transform="translate(88.95,216.1) rotate(-90)" font-size="6.2" fill="#4D4D4D" text-anchor="end" textLength="16.1" lengthAdjust="spacingAndGlyphs">DTHD</text>
<line x1="122.7" x2="122.7" y1="213.5" y2="215.3" stroke="#8A8A8A" stroke-width="0.7"/>
<text transform="translate(125.1,216.1) rotate(-90)" font-size="6.2" fill="#4D4D4D" text-anchor="end" textLength="16.0" lengthAdjust="spacingAndGlyphs">DTMT</text>
<line x1="158.85" x2="158.85" y1="213.5" y2="215.3" stroke="#8A8A8A" stroke-width="0.7"/>
<text transform="translate(161.25,216.1) rotate(-90)" font-size="6.2" fill="#4D4D4D" text-anchor="end" textLength="8.2" lengthAdjust="spacingAndGlyphs">GY</text>
<line x1="195" x2="195" y1="213.5" y2="215.3" stroke="#8A8A8A" stroke-width="0.7"/>
<text transform="translate(197.4,216.1) rotate(-90)" font-size="6.2" fill="#4D4D4D" text-anchor="end" textLength="16.9" lengthAdjust="spacingAndGlyphs">Height</text>
<text x="122.7" y="240.6" font-size="8.4" fill="#0d0d0d" stroke="#0d0d0d" stroke-width="0.15" text-anchor="middle" textLength="13.5" lengthAdjust="spacingAndGlyphs">Trait</text>
<text transform="translate(10,109.6) rotate(-90)" font-size="8.1" fill="#0d0d0d" stroke="#0d0d0d" stroke-width="0.15" text-anchor="middle" textLength="27.3" lengthAdjust="spacingAndGlyphs">MAAPE</text>
<text x="137.45" y="260.7" font-family="Liberation Serif, serif" font-weight="bold" font-size="10" fill="#111" stroke="#111" stroke-width="0.22" text-anchor="middle" textLength="13.9" lengthAdjust="spacingAndGlyphs">(A)</text>
<text x="223.9" y="103" font-size="7.5" fill="#0a0a0a" stroke="#0a0a0a" stroke-width="0.12" textLength="24.2" lengthAdjust="spacingAndGlyphs">Method</text>
<text x="234.1" y="113.8" font-size="6" fill="#161616" stroke="#161616" stroke-width="0.08" textLength="29.3" lengthAdjust="spacingAndGlyphs">Augmented</text>
<text x="234.1" y="121.6" font-size="6" fill="#161616" stroke="#161616" stroke-width="0.08" textLength="33.4" lengthAdjust="spacingAndGlyphs">Conventional</text>
</g>
<g filter="url(#gs)">
<rect x="308.5" y="5.5" width="188" height="208" fill="none" stroke="#A3A3A3" stroke-width="1"/>
<line x1="306.9" x2="308.5" y1="203.6" y2="203.6" stroke="#8A8A8A" stroke-width="0.7"/>
<text x="305.8" y="206.35" font-size="6.5" fill="#4D4D4D" text-anchor="end" textLength="11.29" lengthAdjust="spacingAndGlyphs">0.00</text>
<line x1="306.9" x2="308.5" y1="165.7" y2="165.7" stroke="#8A8A8A" stroke-width="0.7"/>
<text x="305.8" y="168.45" font-size="6.5" fill="#4D4D4D" text-anchor="end" textLength="11.29" lengthAdjust="spacingAndGlyphs">0.01</text>
<line x1="306.9" x2="308.5" y1="127.8" y2="127.8" stroke="#8A8A8A" stroke-width="0.7"/>
<text x="305.8" y="130.55" font-size="6.5" fill="#4D4D4D" text-anchor="end" textLength="11.29" lengthAdjust="spacingAndGlyphs">0.02</text>
<line x1="306.9" x2="308.5" y1="90" y2="90" stroke="#8A8A8A" stroke-width="0.7"/>
<text x="305.8" y="92.75" font-size="6.5" fill="#4D4D4D" text-anchor="end" textLength="11.29" lengthAdjust="spacingAndGlyphs">0.03</text>
<line x1="306.9" x2="308.5" y1="52.2" y2="52.2" stroke="#8A8A8A" stroke-width="0.7"/>
<text x="305.8" y="54.95" font-size="6.5" fill="#4D4D4D" text-anchor="end" textLength="11.29" lengthAdjust="spacingAndGlyphs">0.04</text>
<line x1="306.9" x2="308.5" y1="14.3" y2="14.3" stroke="#8A8A8A" stroke-width="0.7"/>
<text x="305.8" y="17.05" font-size="6.5" fill="#4D4D4D" text-anchor="end" textLength="11.29" lengthAdjust="spacingAndGlyphs">0.05</text>
<line x1="330" x2="330" y1="213.5" y2="215.3" stroke="#8A8A8A" stroke-width="0.7"/>
<text transform="translate(332.4,216.1) rotate(-90)" font-size="6.2" fill="#4D4D4D" text-anchor="end" textLength="7.3" lengthAdjust="spacingAndGlyphs">AT</text>
<line x1="366.13" x2="366.13" y1="213.5" y2="215.3" stroke="#8A8A8A" stroke-width="0.7"/>
<text transform="translate(368.53,216.1) rotate(-90)" font-size="6.2" fill="#4D4D4D" text-anchor="end" textLength="16.1" lengthAdjust="spacingAndGlyphs">DTHD</text>
<line x1="402.26" x2="402.26" y1="213.5" y2="215.3" stroke="#8A8A8A" stroke-width="0.7"/>
<text transform="translate(404.66,216.1) rotate(-90)" font-size="6.2" fill="#4D4D4D" text-anchor="end" textLength="16.0" lengthAdjust="spacingAndGlyphs">DTMT</text>
<line x1="438.39" x2="438.39" y1="213.5" y2="215.3" stroke="#8A8A8A" stroke-width="0.7"/>
<text transform="translate(440.79,216.1) rotate(-90)" font-size="6.2" fill="#4D4D4D" text-anchor="end" textLength="8.2" lengthAdjust="spacingAndGlyphs">GY</text>
<line x1="474.52" x2="474.52" y1="213.5" y2="215.3" stroke="#8A8A8A" stroke-width="0.7"/>
<text transform="translate(476.92,216.1) rotate(-90)" font-size="6.2" fill="#4D4D4D" text-anchor="end" textLength="16.9" lengthAdjust="spacingAndGlyphs">Height</text>
<text x="402.4" y="240.7" font-size="8.4" fill="#0d0d0d" stroke="#0d0d0d" stroke-width="0.15" text-anchor="middle" textLength="13.5" lengthAdjust="spacingAndGlyphs">Trait</text>
<text transform="translate(292.3,110.1) rotate(-90)" font-size="8.1" fill="#0d0d0d" stroke="#0d0d0d" stroke-width="0.15" text-anchor="middle" textLength="41.4" lengthAdjust="spacingAndGlyphs">MAAPE_80</text>
<text x="418.35" y="261" font-family="Liberation Serif, serif" font-weight="bold" font-size="10" fill="#111" stroke="#111" stroke-width="0.22" text-anchor="middle" textLength="13.4" lengthAdjust="spacingAndGlyphs">(B)</text>
<text x="503.3" y="103" font-size="7.5" fill="#0a0a0a" stroke="#0a0a0a" stroke-width="0.12" textLength="24.2" lengthAdjust="spacingAndGlyphs">Method</text>
<text x="513.5" y="113.8" font-size="6" fill="#161616" stroke="#161616" stroke-width="0.08" textLength="29.3" lengthAdjust="spacingAndGlyphs">Augmented</text>
<text x="513.5" y="121.6" font-size="6" fill="#161616" stroke="#161616" stroke-width="0.08" textLength="33.4" lengthAdjust="spacingAndGlyphs">Conventional</text>
</g>
<g filter="url(#gs)">
<rect x="26.3" y="271.5" width="188.2" height="208" fill="none" stroke="#A3A3A3" stroke-width="1"/>
<line x1="24.7" x2="26.3" y1="469.9" y2="469.9" stroke="#8A8A8A" stroke-width="0.7"/>
<text x="24.4" y="472.65" font-size="6.5" fill="#4D4D4D" text-anchor="end" textLength="8.06" lengthAdjust="spacingAndGlyphs">0.0</text>
<line x1="24.7" x2="26.3" y1="414.9" y2="414.9" stroke="#8A8A8A" stroke-width="0.7"/>
<text x="24.4" y="417.65" font-size="6.5" fill="#4D4D4D" text-anchor="end" textLength="8.06" lengthAdjust="spacingAndGlyphs">0.5</text>
<line x1="24.7" x2="26.3" y1="359.9" y2="359.9" stroke="#8A8A8A" stroke-width="0.7"/>
<text x="24.4" y="362.65" font-size="6.5" fill="#4D4D4D" text-anchor="end" textLength="8.06" lengthAdjust="spacingAndGlyphs">1.0</text>
<line x1="24.7" x2="26.3" y1="305" y2="305" stroke="#8A8A8A" stroke-width="0.7"/>
<text x="24.4" y="307.75" font-size="6.5" fill="#4D4D4D" text-anchor="end" textLength="8.06" lengthAdjust="spacingAndGlyphs">1.5</text>
<line x1="47.6" x2="47.6" y1="479.5" y2="481.3" stroke="#8A8A8A" stroke-width="0.7"/>
<text transform="translate(50,482.1) rotate(-90)" font-size="6.2" fill="#4D4D4D" text-anchor="end" textLength="7.3" lengthAdjust="spacingAndGlyphs">AT</text>
<line x1="83.75" x2="83.75" y1="479.5" y2="481.3" stroke="#8A8A8A" stroke-width="0.7"/>
<text transform="translate(86.15,482.1) rotate(-90)" font-size="6.2" fill="#4D4D4D" text-anchor="end" textLength="16.1" lengthAdjust="spacingAndGlyphs">DTHD</text>
<line x1="119.9" x2="119.9" y1="479.5" y2="481.3" stroke="#8A8A8A" stroke-width="0.7"/>
<text transform="translate(122.3,482.1) rotate(-90)" font-size="6.2" fill="#4D4D4D" text-anchor="end" textLength="16.0" lengthAdjust="spacingAndGlyphs">DTMT</text>
<line x1="156.05" x2="156.05" y1="479.5" y2="481.3" stroke="#8A8A8A" stroke-width="0.7"/>
<text transform="translate(158.45,482.1) rotate(-90)" font-size="6.2" fill="#4D4D4D" text-anchor="end" textLength="8.2" lengthAdjust="spacingAndGlyphs">GY</text>
<line x1="192.2" x2="192.2" y1="479.5" y2="481.3" stroke="#8A8A8A" stroke-width="0.7"/>
<text transform="translate(194.6,482.1) rotate(-90)" font-size="6.2" fill="#4D4D4D" text-anchor="end" textLength="16.9" lengthAdjust="spacingAndGlyphs">Height</text>
<text x="120.5" y="507.1" font-size="8.4" fill="#0d0d0d" stroke="#0d0d0d" stroke-width="0.15" text-anchor="middle" textLength="13.5" lengthAdjust="spacingAndGlyphs">Trait</text>
<text transform="translate(14,375.8) rotate(-90)" font-size="8.1" fill="#0d0d0d" stroke="#0d0d0d" stroke-width="0.15" text-anchor="middle" textLength="27.6" lengthAdjust="spacingAndGlyphs">NRMSE</text>
<text x="137.4" y="527" font-family="Liberation Serif, serif" font-weight="bold" font-size="10" fill="#111" stroke="#111" stroke-width="0.22" text-anchor="middle" textLength="14.0" lengthAdjust="spacingAndGlyphs">(C)</text>
<text x="221" y="369.2" font-size="7.5" fill="#0a0a0a" stroke="#0a0a0a" stroke-width="0.12" textLength="24.2" lengthAdjust="spacingAndGlyphs">Method</text>
<text x="231.2" y="380" font-size="6" fill="#161616" stroke="#161616" stroke-width="0.08" textLength="29.3" lengthAdjust="spacingAndGlyphs">Augmented</text>
<text x="231.2" y="387.8" font-size="6" fill="#161616" stroke="#161616" stroke-width="0.08" textLength="33.4" lengthAdjust="spacingAndGlyphs">Conventional</text>
</g>
<g filter="url(#gs)">
<rect x="306" y="271.4" width="186.8" height="208.1" fill="none" stroke="#A3A3A3" stroke-width="1"/>
<line x1="304.4" x2="306" y1="469.9" y2="469.9" stroke="#8A8A8A" stroke-width="0.7"/>
<text x="303.8" y="472.65" font-size="6.5" fill="#4D4D4D" text-anchor="end" textLength="3.22" lengthAdjust="spacingAndGlyphs">0</text>
<line x1="304.4" x2="306" y1="413.5" y2="413.5" stroke="#8A8A8A" stroke-width="0.7"/>
<text x="303.8" y="416.25" font-size="6.5" fill="#4D4D4D" text-anchor="end" textLength="3.22" lengthAdjust="spacingAndGlyphs">1</text>
<line x1="304.4" x2="306" y1="357.2" y2="357.2" stroke="#8A8A8A" stroke-width="0.7"/>
<text x="303.8" y="359.95" font-size="6.5" fill="#4D4D4D" text-anchor="end" textLength="3.22" lengthAdjust="spacingAndGlyphs">2</text>
<line x1="304.4" x2="306" y1="300.9" y2="300.9" stroke="#8A8A8A" stroke-width="0.7"/>
<text x="303.8" y="303.65" font-size="6.5" fill="#4D4D4D" text-anchor="end" textLength="3.22" lengthAdjust="spacingAndGlyphs">3</text>
<line x1="327.4" x2="327.4" y1="479.5" y2="481.3" stroke="#8A8A8A" stroke-width="0.7"/>
<text transform="translate(329.8,482.1) rotate(-90)" font-size="6.2" fill="#4D4D4D" text-anchor="end" textLength="7.3" lengthAdjust="spacingAndGlyphs">AT</text>
<line x1="363.38" x2="363.38" y1="479.5" y2="481.3" stroke="#8A8A8A" stroke-width="0.7"/>
<text transform="translate(365.78,482.1) rotate(-90)" font-size="6.2" fill="#4D4D4D" text-anchor="end" textLength="16.1" lengthAdjust="spacingAndGlyphs">DTHD</text>
<line x1="399.36" x2="399.36" y1="479.5" y2="481.3" stroke="#8A8A8A" stroke-width="0.7"/>
<text transform="translate(401.76,482.1) rotate(-90)" font-size="6.2" fill="#4D4D4D" text-anchor="end" textLength="16.0" lengthAdjust="spacingAndGlyphs">DTMT</text>
<line x1="435.34" x2="435.34" y1="479.5" y2="481.3" stroke="#8A8A8A" stroke-width="0.7"/>
<text transform="translate(437.74,482.1) rotate(-90)" font-size="6.2" fill="#4D4D4D" text-anchor="end" textLength="8.2" lengthAdjust="spacingAndGlyphs">GY</text>
<line x1="471.32" x2="471.32" y1="479.5" y2="481.3" stroke="#8A8A8A" stroke-width="0.7"/>
<text transform="translate(473.72,482.1) rotate(-90)" font-size="6.2" fill="#4D4D4D" text-anchor="end" textLength="16.9" lengthAdjust="spacingAndGlyphs">Height</text>
<text x="399.6" y="507.1" font-size="8.4" fill="#0d0d0d" stroke="#0d0d0d" stroke-width="0.15" text-anchor="middle" textLength="13.5" lengthAdjust="spacingAndGlyphs">Trait</text>
<text transform="translate(298.8,376.5) rotate(-90)" font-size="8.1" fill="#0d0d0d" stroke="#0d0d0d" stroke-width="0.15" text-anchor="middle" textLength="42.0" lengthAdjust="spacingAndGlyphs">NRMSE_80</text>
<text x="418.25" y="527" font-family="Liberation Serif, serif" font-weight="bold" font-size="10" fill="#111" stroke="#111" stroke-width="0.22" text-anchor="middle" textLength="15.5" lengthAdjust="spacingAndGlyphs">(D)</text>
<text x="499.2" y="369.2" font-size="7.5" fill="#0a0a0a" stroke="#0a0a0a" stroke-width="0.12" textLength="24.2" lengthAdjust="spacingAndGlyphs">Method</text>
<text x="509.4" y="380" font-size="6" fill="#161616" stroke="#161616" stroke-width="0.08" textLength="29.3" lengthAdjust="spacingAndGlyphs">Augmented</text>
<text x="509.4" y="387.8" font-size="6" fill="#161616" stroke="#161616" stroke-width="0.08" textLength="33.4" lengthAdjust="spacingAndGlyphs">Conventional</text>
</g>
</svg>
</body></html>
